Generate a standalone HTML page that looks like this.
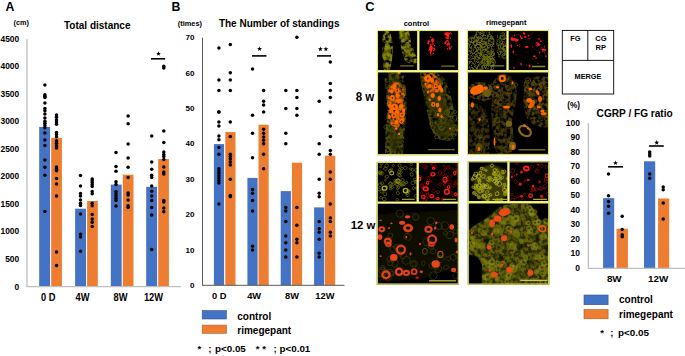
<!DOCTYPE html>
<html><head><meta charset="utf-8"><style>
html,body{margin:0;padding:0;background:#fff;}
body{width:685px;height:356px;overflow:hidden;}
svg text{font-family:"Liberation Sans", sans-serif;}
</style></head><body>
<svg width="685" height="356" viewBox="0 0 685 356" style="display:block">
<rect width="685" height="356" fill="#fff"/>
<defs><clipPath id="c_r1a"><rect x="377.00" y="30.00" width="41.30" height="41.30"/></clipPath><clipPath id="c_r1b"><rect x="418.30" y="30.00" width="40.70" height="41.30"/></clipPath><clipPath id="c_r2a"><rect x="377.00" y="71.30" width="82.00" height="83.80"/></clipPath><clipPath id="c_r1c"><rect x="467.00" y="30.00" width="40.55" height="41.20"/></clipPath><clipPath id="c_r1d"><rect x="507.55" y="30.00" width="41.45" height="41.20"/></clipPath><clipPath id="c_r2b"><rect x="467.00" y="71.20" width="82.00" height="83.70"/></clipPath><clipPath id="c_r3a"><rect x="376.80" y="161.90" width="40.90" height="40.70"/></clipPath><clipPath id="c_r3b"><rect x="417.70" y="161.90" width="41.10" height="40.70"/></clipPath><clipPath id="c_r4a"><rect x="376.80" y="202.60" width="82.00" height="81.90"/></clipPath><clipPath id="c_r3c"><rect x="467.80" y="161.30" width="40.65" height="40.90"/></clipPath><clipPath id="c_r3d"><rect x="508.45" y="161.30" width="40.75" height="40.90"/></clipPath><clipPath id="c_r4b"><rect x="467.80" y="202.20" width="81.40" height="82.40"/></clipPath>
<filter id="tex" x="0" y="0" width="100%" height="100%" color-interpolation-filters="sRGB">
 <feTurbulence type="fractalNoise" baseFrequency="0.55" numOctaves="2" seed="7" result="n"/>
 <feColorMatrix in="n" type="matrix" values="0 0 0 0 0  0 0 0 0 0  0 0 0 0 0  5 0 0 0 -2.1" result="a"/>
 <feComposite in="SourceGraphic" in2="a" operator="in" result="c"/>
 <feGaussianBlur in="c" stdDeviation="0.35"/>
</filter>
<filter id="tex2" x="0" y="0" width="100%" height="100%" color-interpolation-filters="sRGB">
 <feTurbulence type="fractalNoise" baseFrequency="0.28" numOctaves="2" seed="3" result="n"/>
 <feColorMatrix in="n" type="matrix" values="0 0 0 0 0  0 0 0 0 0  0 0 0 0 0  3.2 0 0 0 -1.05" result="a"/>
 <feComposite in="SourceGraphic" in2="a" operator="in" result="c"/>
 <feGaussianBlur in="c" stdDeviation="0.3"/>
</filter>
<filter id="soft" x="-20%" y="-20%" width="140%" height="140%"><feGaussianBlur stdDeviation="0.45"/></filter>
<filter id="soft3" x="-20%" y="-20%" width="140%" height="140%"><feGaussianBlur stdDeviation="0.8"/></filter>
<filter id="soft2" x="-20%" y="-20%" width="140%" height="140%"><feGaussianBlur stdDeviation="1.2"/></filter>
</defs>
<rect x="377.00" y="30.00" width="82.00" height="125.10" fill="#000"/>
<rect x="467.00" y="30.00" width="82.00" height="124.90" fill="#000"/>
<rect x="376.80" y="161.90" width="82.00" height="122.60" fill="#000"/>
<rect x="467.80" y="161.30" width="81.40" height="123.30" fill="#000"/>
<g clip-path="url(#c_r1a)"><g filter="url(#tex2)"><polygon points="383.0,31.0 390.0,31.0 392.5,42.0 393.0,52.0 392.0,60.0 390.0,70.0 384.0,70.0 382.5,60.0 382.0,48.0" fill="#84840e" /><polygon points="398.5,31.0 409.0,31.0 411.0,42.0 414.0,50.0 417.0,58.0 416.5,63.0 411.0,64.0 405.0,61.0 402.0,52.0 400.0,42.0" fill="#84840e" /></g><g filter="url(#soft)" opacity="0.55"><ellipse cx="387.5" cy="51.0" rx="3.5" ry="8.0" fill="#8c8c10" /><ellipse cx="404.0" cy="37.0" rx="4.0" ry="5.0" fill="#8c8c10" /><ellipse cx="408.0" cy="50.0" rx="3.5" ry="7.0" fill="#707010" /></g><line x1="400.2" y1="65.9" x2="413.7" y2="65.9" stroke="#77771e" stroke-width="1.3"/></g>
<g clip-path="url(#c_r1b)"><g filter="url(#soft)"><ellipse cx="430.6" cy="47.2" rx="1.1" ry="0.8" fill="#ff2020" transform="rotate(91 430.6 47.2)" opacity="1.00"/><ellipse cx="431.7" cy="39.7" rx="0.8" ry="0.7" fill="#ff2020" transform="rotate(142 431.7 39.7)" opacity="1.00"/><ellipse cx="427.9" cy="42.1" rx="0.6" ry="0.5" fill="#ff2020" transform="rotate(124 427.9 42.1)" opacity="1.00"/><ellipse cx="434.5" cy="49.1" rx="0.9" ry="0.6" fill="#ff2020" transform="rotate(2 434.5 49.1)" opacity="1.00"/><ellipse cx="431.2" cy="37.2" rx="0.6" ry="0.4" fill="#ff2020" transform="rotate(5 431.2 37.2)" opacity="1.00"/><ellipse cx="430.7" cy="44.8" rx="1.0" ry="0.8" fill="#ff2020" transform="rotate(115 430.7 44.8)" opacity="1.00"/><ellipse cx="431.0" cy="49.2" rx="0.8" ry="0.6" fill="#ff2020" transform="rotate(179 431.0 49.2)" opacity="1.00"/><ellipse cx="432.6" cy="42.3" rx="0.6" ry="0.5" fill="#ff2020" transform="rotate(12 432.6 42.3)" opacity="1.00"/><ellipse cx="433.0" cy="44.0" rx="1.0" ry="0.8" fill="#ff2020" transform="rotate(172 433.0 44.0)" opacity="1.00"/><ellipse cx="430.8" cy="55.6" rx="0.7" ry="0.5" fill="#ff2020" transform="rotate(113 430.8 55.6)" opacity="1.00"/><ellipse cx="433.1" cy="41.4" rx="0.6" ry="0.4" fill="#ff2020" transform="rotate(173 433.1 41.4)" opacity="1.00"/><ellipse cx="433.0" cy="38.4" rx="0.6" ry="0.4" fill="#ff2020" transform="rotate(10 433.0 38.4)" opacity="1.00"/><ellipse cx="433.3" cy="39.6" rx="0.8" ry="0.7" fill="#ff2020" transform="rotate(34 433.3 39.6)" opacity="1.00"/><ellipse cx="432.8" cy="38.6" rx="0.9" ry="0.6" fill="#ff2020" transform="rotate(75 432.8 38.6)" opacity="1.00"/><ellipse cx="428.8" cy="41.4" rx="1.1" ry="1.0" fill="#ff2020" transform="rotate(54 428.8 41.4)" opacity="1.00"/><ellipse cx="433.9" cy="40.2" rx="0.7" ry="0.7" fill="#ff2020" transform="rotate(115 433.9 40.2)" opacity="1.00"/><ellipse cx="428.8" cy="41.2" rx="1.0" ry="0.7" fill="#ff2020" transform="rotate(53 428.8 41.2)" opacity="1.00"/><ellipse cx="431.6" cy="40.9" rx="0.9" ry="0.6" fill="#ff2020" transform="rotate(81 431.6 40.9)" opacity="1.00"/><ellipse cx="434.5" cy="45.7" rx="0.8" ry="0.8" fill="#ff2020" transform="rotate(32 434.5 45.7)" opacity="1.00"/><ellipse cx="433.4" cy="41.0" rx="0.6" ry="0.5" fill="#ff2020" transform="rotate(169 433.4 41.0)" opacity="1.00"/><ellipse cx="433.9" cy="48.1" rx="0.8" ry="0.5" fill="#ff2020" transform="rotate(6 433.9 48.1)" opacity="1.00"/><ellipse cx="432.6" cy="41.1" rx="1.0" ry="0.8" fill="#ff2020" transform="rotate(52 432.6 41.1)" opacity="1.00"/><ellipse cx="428.5" cy="50.4" rx="0.5" ry="0.4" fill="#ff2020" transform="rotate(100 428.5 50.4)" opacity="1.00"/><ellipse cx="433.7" cy="48.3" rx="0.7" ry="0.6" fill="#ff2020" transform="rotate(36 433.7 48.3)" opacity="1.00"/><ellipse cx="430.6" cy="37.2" rx="0.6" ry="0.5" fill="#ff2020" transform="rotate(102 430.6 37.2)" opacity="1.00"/><ellipse cx="428.2" cy="43.2" rx="1.0" ry="1.0" fill="#ff2020" transform="rotate(118 428.2 43.2)" opacity="1.00"/><ellipse cx="432.5" cy="47.7" rx="0.6" ry="0.4" fill="#ff2020" transform="rotate(3 432.5 47.7)" opacity="1.00"/><ellipse cx="434.1" cy="50.0" rx="1.1" ry="0.7" fill="#ff2020" transform="rotate(114 434.1 50.0)" opacity="1.00"/><ellipse cx="430.9" cy="50.6" rx="0.7" ry="0.7" fill="#ff2020" transform="rotate(13 430.9 50.6)" opacity="1.00"/><ellipse cx="431.4" cy="50.7" rx="1.0" ry="0.9" fill="#ff2020" transform="rotate(126 431.4 50.7)" opacity="1.00"/><ellipse cx="429.9" cy="49.7" rx="1.0" ry="1.0" fill="#ff2020" transform="rotate(75 429.9 49.7)" opacity="1.00"/><ellipse cx="433.2" cy="53.3" rx="0.8" ry="0.7" fill="#ff2020" transform="rotate(68 433.2 53.3)" opacity="1.00"/><ellipse cx="431.6" cy="48.2" rx="0.5" ry="0.5" fill="#ff2020" transform="rotate(178 431.6 48.2)" opacity="1.00"/><ellipse cx="433.9" cy="50.6" rx="0.7" ry="0.7" fill="#ff2020" transform="rotate(104 433.9 50.6)" opacity="1.00"/><ellipse cx="430.5" cy="52.8" rx="0.6" ry="0.5" fill="#ff2020" transform="rotate(5 430.5 52.8)" opacity="1.00"/><ellipse cx="431.8" cy="45.6" rx="0.6" ry="0.6" fill="#ff2020" transform="rotate(89 431.8 45.6)" opacity="1.00"/><ellipse cx="431.9" cy="54.4" rx="0.7" ry="0.4" fill="#ff2020" transform="rotate(54 431.9 54.4)" opacity="1.00"/><ellipse cx="432.4" cy="40.1" rx="0.6" ry="0.6" fill="#ff2020" transform="rotate(118 432.4 40.1)" opacity="1.00"/><ellipse cx="430.6" cy="53.8" rx="0.7" ry="0.6" fill="#ff2020" transform="rotate(35 430.6 53.8)" opacity="1.00"/><ellipse cx="430.5" cy="52.1" rx="1.0" ry="1.0" fill="#ff2020" transform="rotate(69 430.5 52.1)" opacity="1.00"/><ellipse cx="448.8" cy="43.8" rx="0.9" ry="0.6" fill="#ff2020" transform="rotate(1 448.8 43.8)" opacity="1.00"/><ellipse cx="448.0" cy="36.9" rx="1.0" ry="0.9" fill="#ff2020" transform="rotate(108 448.0 36.9)" opacity="1.00"/><ellipse cx="449.5" cy="43.9" rx="0.6" ry="0.5" fill="#ff2020" transform="rotate(29 449.5 43.9)" opacity="1.00"/><ellipse cx="450.5" cy="38.1" rx="0.7" ry="0.7" fill="#ff2020" transform="rotate(3 450.5 38.1)" opacity="1.00"/><ellipse cx="449.1" cy="33.6" rx="1.1" ry="1.1" fill="#ff2020" transform="rotate(20 449.1 33.6)" opacity="1.00"/><ellipse cx="448.4" cy="34.4" rx="0.7" ry="0.6" fill="#ff2020" transform="rotate(29 448.4 34.4)" opacity="1.00"/><ellipse cx="450.6" cy="32.9" rx="0.6" ry="0.6" fill="#ff2020" transform="rotate(72 450.6 32.9)" opacity="1.00"/><ellipse cx="448.4" cy="42.7" rx="0.8" ry="0.6" fill="#ff2020" transform="rotate(5 448.4 42.7)" opacity="1.00"/><ellipse cx="447.9" cy="38.5" rx="0.9" ry="0.8" fill="#ff2020" transform="rotate(20 447.9 38.5)" opacity="1.00"/><ellipse cx="446.9" cy="38.5" rx="0.8" ry="0.7" fill="#ff2020" transform="rotate(90 446.9 38.5)" opacity="1.00"/><ellipse cx="448.4" cy="41.3" rx="0.6" ry="0.5" fill="#ff2020" transform="rotate(69 448.4 41.3)" opacity="1.00"/><ellipse cx="451.2" cy="33.8" rx="0.8" ry="0.6" fill="#ff2020" transform="rotate(125 451.2 33.8)" opacity="1.00"/><ellipse cx="447.8" cy="43.5" rx="0.5" ry="0.4" fill="#ff2020" transform="rotate(37 447.8 43.5)" opacity="1.00"/><ellipse cx="447.3" cy="40.6" rx="1.1" ry="0.9" fill="#ff2020" transform="rotate(172 447.3 40.6)" opacity="1.00"/><ellipse cx="447.9" cy="35.4" rx="0.9" ry="0.9" fill="#ff2020" transform="rotate(1 447.9 35.4)" opacity="1.00"/><ellipse cx="447.1" cy="45.9" rx="0.7" ry="0.5" fill="#ff2020" transform="rotate(1 447.1 45.9)" opacity="1.00"/><ellipse cx="445.3" cy="43.1" rx="1.1" ry="1.1" fill="#ff2020" transform="rotate(90 445.3 43.1)" opacity="1.00"/><ellipse cx="451.3" cy="47.0" rx="0.9" ry="0.6" fill="#ff2020" transform="rotate(94 451.3 47.0)" opacity="1.00"/><ellipse cx="448.8" cy="43.3" rx="0.7" ry="0.6" fill="#ff2020" transform="rotate(160 448.8 43.3)" opacity="1.00"/><ellipse cx="446.3" cy="37.2" rx="1.0" ry="0.7" fill="#ff2020" transform="rotate(169 446.3 37.2)" opacity="1.00"/><ellipse cx="449.1" cy="44.5" rx="0.9" ry="0.6" fill="#ff2020" transform="rotate(51 449.1 44.5)" opacity="1.00"/><ellipse cx="447.0" cy="44.3" rx="0.9" ry="0.6" fill="#ff2020" transform="rotate(159 447.0 44.3)" opacity="1.00"/><ellipse cx="448.4" cy="36.3" rx="0.8" ry="0.8" fill="#ff2020" transform="rotate(100 448.4 36.3)" opacity="1.00"/><ellipse cx="450.0" cy="48.6" rx="1.1" ry="1.0" fill="#ff2020" transform="rotate(75 450.0 48.6)" opacity="1.00"/><ellipse cx="449.7" cy="48.2" rx="1.0" ry="0.8" fill="#ff2020" transform="rotate(62 449.7 48.2)" opacity="1.00"/><ellipse cx="447.9" cy="45.2" rx="0.8" ry="0.5" fill="#ff2020" transform="rotate(127 447.9 45.2)" opacity="1.00"/><ellipse cx="449.3" cy="46.2" rx="0.7" ry="0.5" fill="#ff2020" transform="rotate(63 449.3 46.2)" opacity="1.00"/><ellipse cx="447.5" cy="48.8" rx="0.9" ry="0.7" fill="#ff2020" transform="rotate(111 447.5 48.8)" opacity="1.00"/><ellipse cx="446.0" cy="41.6" rx="0.9" ry="0.7" fill="#ff2020" transform="rotate(44 446.0 41.6)" opacity="1.00"/><ellipse cx="448.3" cy="37.8" rx="0.9" ry="0.6" fill="#ff2020" transform="rotate(16 448.3 37.8)" opacity="1.00"/><ellipse cx="447.5" cy="44.5" rx="1.0" ry="0.8" fill="#ff2020" transform="rotate(168 447.5 44.5)" opacity="1.00"/><ellipse cx="447.9" cy="32.5" rx="0.8" ry="0.6" fill="#ff2020" transform="rotate(32 447.9 32.5)" opacity="1.00"/><ellipse cx="450.3" cy="38.1" rx="0.6" ry="0.5" fill="#ff2020" transform="rotate(169 450.3 38.1)" opacity="1.00"/><ellipse cx="447.2" cy="35.6" rx="0.8" ry="0.5" fill="#ff2020" transform="rotate(165 447.2 35.6)" opacity="1.00"/><ellipse cx="446.5" cy="34.0" rx="2.2" ry="1.8" fill="#ff2020" /><ellipse cx="431.0" cy="48.0" rx="1.8" ry="2.5" fill="#ff2020" /></g><line x1="441.2" y1="66.2" x2="454.7" y2="66.2" stroke="#77771e" stroke-width="1.3"/></g>
<g clip-path="url(#c_r2a)"><g filter="url(#tex2)"><polygon points="386.0,72.5 398.0,72.5 404.0,76.0 406.0,90.0 407.0,105.0 406.0,118.0 405.0,128.0 404.0,140.0 403.0,154.0 385.0,154.0 385.0,140.0 386.0,125.0 387.0,110.0 386.0,95.0 384.5,80.0" fill="#4e4e0a" /><polygon points="420.0,72.5 436.0,72.5 444.0,78.0 450.0,92.0 453.0,105.0 456.0,115.0 458.0,124.0 458.0,132.0 455.0,140.0 447.0,141.0 438.0,139.0 433.0,133.0 430.0,124.0 427.0,112.0 425.0,100.0 422.0,88.0 420.0,78.0" fill="#4e4e0a" /></g><g filter="url(#soft2)" opacity="0.7"><ellipse cx="395.0" cy="100.0" rx="7.0" ry="25.0" fill="#3a3a06" /><ellipse cx="394.0" cy="138.0" rx="7.0" ry="14.0" fill="#343406" /><ellipse cx="436.0" cy="100.0" rx="10.0" ry="22.0" fill="#3a3a06" transform="rotate(-20 436.0 100.0)" /><ellipse cx="445.0" cy="128.0" rx="10.0" ry="10.0" fill="#343406" /></g><ellipse cx="389.0" cy="139.6" rx="2.5" ry="2.3" fill="none" stroke="#5e5e10" stroke-width="0.7" transform="rotate(38 389.0 139.6)" opacity="0.8"/><ellipse cx="400.3" cy="144.3" rx="2.3" ry="2.1" fill="none" stroke="#5e5e10" stroke-width="0.7" transform="rotate(42 400.3 144.3)" opacity="0.8"/><ellipse cx="386.1" cy="126.8" rx="2.4" ry="1.8" fill="none" stroke="#5e5e10" stroke-width="0.7" transform="rotate(142 386.1 126.8)" opacity="0.8"/><ellipse cx="390.2" cy="121.3" rx="1.6" ry="1.7" fill="none" stroke="#5e5e10" stroke-width="0.7" transform="rotate(132 390.2 121.3)" opacity="0.8"/><ellipse cx="401.8" cy="136.6" rx="1.6" ry="1.3" fill="none" stroke="#5e5e10" stroke-width="0.7" transform="rotate(89 401.8 136.6)" opacity="0.8"/><ellipse cx="388.1" cy="150.1" rx="2.1" ry="1.7" fill="none" stroke="#5e5e10" stroke-width="0.7" transform="rotate(147 388.1 150.1)" opacity="0.8"/><ellipse cx="388.2" cy="149.1" rx="2.2" ry="2.1" fill="none" stroke="#5e5e10" stroke-width="0.7" transform="rotate(61 388.2 149.1)" opacity="0.8"/><ellipse cx="394.7" cy="119.5" rx="1.6" ry="1.6" fill="none" stroke="#5e5e10" stroke-width="0.7" transform="rotate(42 394.7 119.5)" opacity="0.8"/><ellipse cx="400.0" cy="120.3" rx="3.0" ry="3.1" fill="none" stroke="#5e5e10" stroke-width="0.7" transform="rotate(135 400.0 120.3)" opacity="0.8"/><ellipse cx="399.7" cy="135.2" rx="2.6" ry="2.1" fill="none" stroke="#5e5e10" stroke-width="0.7" transform="rotate(85 399.7 135.2)" opacity="0.8"/><ellipse cx="400.9" cy="120.0" rx="2.9" ry="3.1" fill="none" stroke="#5e5e10" stroke-width="0.7" transform="rotate(73 400.9 120.0)" opacity="0.8"/><ellipse cx="392.6" cy="130.1" rx="2.1" ry="2.3" fill="none" stroke="#5e5e10" stroke-width="0.7" transform="rotate(69 392.6 130.1)" opacity="0.8"/><ellipse cx="454.9" cy="112.2" rx="1.5" ry="1.7" fill="none" stroke="#5e5e10" stroke-width="0.7" transform="rotate(33 454.9 112.2)" opacity="0.8"/><ellipse cx="433.1" cy="127.5" rx="2.0" ry="2.1" fill="none" stroke="#5e5e10" stroke-width="0.7" transform="rotate(41 433.1 127.5)" opacity="0.8"/><ellipse cx="454.9" cy="117.6" rx="2.4" ry="2.6" fill="none" stroke="#5e5e10" stroke-width="0.7" transform="rotate(123 454.9 117.6)" opacity="0.8"/><ellipse cx="454.0" cy="129.2" rx="1.6" ry="1.7" fill="none" stroke="#5e5e10" stroke-width="0.7" transform="rotate(106 454.0 129.2)" opacity="0.8"/><ellipse cx="438.1" cy="113.7" rx="2.8" ry="2.6" fill="none" stroke="#5e5e10" stroke-width="0.7" transform="rotate(168 438.1 113.7)" opacity="0.8"/><ellipse cx="450.1" cy="136.8" rx="2.3" ry="2.3" fill="none" stroke="#5e5e10" stroke-width="0.7" transform="rotate(110 450.1 136.8)" opacity="0.8"/><ellipse cx="436.7" cy="136.7" rx="2.0" ry="2.0" fill="none" stroke="#5e5e10" stroke-width="0.7" transform="rotate(171 436.7 136.7)" opacity="0.8"/><ellipse cx="446.9" cy="112.3" rx="2.7" ry="2.7" fill="none" stroke="#5e5e10" stroke-width="0.7" transform="rotate(33 446.9 112.3)" opacity="0.8"/><ellipse cx="431.3" cy="124.0" rx="1.5" ry="1.7" fill="none" stroke="#5e5e10" stroke-width="0.7" transform="rotate(91 431.3 124.0)" opacity="0.8"/><ellipse cx="443.5" cy="120.3" rx="2.5" ry="2.7" fill="none" stroke="#5e5e10" stroke-width="0.7" transform="rotate(55 443.5 120.3)" opacity="0.8"/><ellipse cx="439.7" cy="125.5" rx="1.9" ry="1.9" fill="none" stroke="#5e5e10" stroke-width="0.7" transform="rotate(97 439.7 125.5)" opacity="0.8"/><ellipse cx="441.3" cy="128.2" rx="2.3" ry="1.8" fill="none" stroke="#5e5e10" stroke-width="0.7" transform="rotate(179 441.3 128.2)" opacity="0.8"/><g filter="url(#tex2)"><polygon points="390.0,83.0 398.0,82.0 404.0,88.0 405.0,100.0 405.0,112.0 404.0,124.0 398.0,128.0 392.0,126.0 388.0,118.0 387.0,105.0 388.0,92.0" fill="#e86000" /><polygon points="423.0,74.0 432.0,73.0 439.0,79.0 442.0,88.0 438.0,93.0 430.0,92.0 425.0,86.0" fill="#d85800" /></g><g filter="url(#soft)"><ellipse cx="399.1" cy="72.8" rx="1.6" ry="1.2" fill="#ff6800" /><ellipse cx="394.4" cy="86.6" rx="2.2" ry="2.6" fill="#ff6800" /><ellipse cx="391.8" cy="91.2" rx="1.8" ry="2.2" fill="#ff6800" /><ellipse cx="397.2" cy="90.6" rx="2.2" ry="2.2" fill="#ff6800" /><ellipse cx="397.6" cy="95.8" rx="2.2" ry="2.4" fill="#ff6800" /><ellipse cx="392.4" cy="97.9" rx="2.4" ry="2.8" fill="#ff6800" /><ellipse cx="398.5" cy="100.6" rx="2.3" ry="2.3" fill="#ff6800" /><ellipse cx="394.4" cy="106.9" rx="3.6" ry="3.2" fill="#ff6800" /><ellipse cx="389.8" cy="105.7" rx="1.8" ry="2.4" fill="#ff6800" /><ellipse cx="401.2" cy="106.5" rx="2.4" ry="2.4" fill="#ff6800" /><ellipse cx="391.2" cy="111.0" rx="2.0" ry="2.4" fill="#ff6800" /><ellipse cx="397.2" cy="112.0" rx="2.4" ry="2.0" fill="#ff6800" /><ellipse cx="403.5" cy="110.5" rx="1.6" ry="2.0" fill="#ff6800" /><ellipse cx="389.5" cy="117.0" rx="1.6" ry="2.0" fill="#ff6800" /><ellipse cx="393.8" cy="115.6" rx="2.6" ry="2.5" fill="#ff6800" /><ellipse cx="402.1" cy="114.8" rx="2.8" ry="2.6" fill="#ff6800" /><ellipse cx="396.8" cy="122.0" rx="2.0" ry="2.6" fill="#ff6800" /><ellipse cx="401.5" cy="121.5" rx="2.2" ry="2.4" fill="#ff6800" /><ellipse cx="396.2" cy="128.6" rx="1.4" ry="1.4" fill="#ff6800" /><ellipse cx="399.1" cy="134.0" rx="1.2" ry="1.2" fill="#ff6800" /><ellipse cx="427.9" cy="78.8" rx="3.8" ry="3.3" fill="#ff6800" /><ellipse cx="432.0" cy="80.5" rx="2.0" ry="2.2" fill="#ff6800" /><ellipse cx="429.7" cy="86.0" rx="1.9" ry="2.0" fill="#ff6800" /><ellipse cx="435.7" cy="86.0" rx="2.0" ry="2.4" fill="#ff6800" /><ellipse cx="439.8" cy="87.5" rx="2.0" ry="2.6" fill="#ff6800" /><ellipse cx="436.9" cy="90.8" rx="1.8" ry="1.8" fill="#ff6800" /><ellipse cx="441.6" cy="90.2" rx="1.6" ry="2.4" fill="#ff6800" /><ellipse cx="432.7" cy="95.5" rx="2.2" ry="2.4" fill="#ff6800" /><ellipse cx="439.2" cy="98.5" rx="1.8" ry="2.4" fill="#ff6800" /><ellipse cx="433.3" cy="104.5" rx="2.2" ry="2.4" fill="#ff6800" /><ellipse cx="437.5" cy="105.1" rx="1.8" ry="2.4" fill="#ff6800" /><ellipse cx="429.7" cy="99.7" rx="1.2" ry="1.2" fill="#ff6800" /><ellipse cx="439.8" cy="109.9" rx="1.6" ry="2.4" fill="#ff6800" /><ellipse cx="438.0" cy="114.8" rx="1.2" ry="1.8" fill="#ff6800" /><ellipse cx="441.6" cy="116.6" rx="1.2" ry="1.5" fill="#ff6800" /><ellipse cx="450.0" cy="128.6" rx="0.9" ry="1.1" fill="#ff6800" /><ellipse cx="425.5" cy="84.0" rx="1.2" ry="1.5" fill="#ff6800" /><ellipse cx="428.0" cy="92.0" rx="1.3" ry="1.6" fill="#ff6800" /></g><g filter="url(#soft)" opacity="0.85"><ellipse cx="394.4" cy="106.5" rx="0.8" ry="1.0" fill="#2a1a00" /><ellipse cx="427.9" cy="78.5" rx="0.8" ry="1.0" fill="#2a1a00" /><ellipse cx="402.1" cy="114.8" rx="0.8" ry="1.0" fill="#2a1a00" /><ellipse cx="393.8" cy="115.4" rx="0.8" ry="1.0" fill="#2a1a00" /><ellipse cx="401.5" cy="121.5" rx="0.8" ry="1.0" fill="#2a1a00" /><ellipse cx="392.4" cy="97.9" rx="0.8" ry="1.0" fill="#2a1a00" /><ellipse cx="397.2" cy="90.6" rx="0.8" ry="1.0" fill="#2a1a00" /><ellipse cx="433.3" cy="104.5" rx="0.8" ry="1.0" fill="#2a1a00" /><ellipse cx="435.7" cy="86.0" rx="0.8" ry="1.0" fill="#2a1a00" /></g><line x1="427.9" y1="149.6" x2="454.8" y2="149.6" stroke="#6e6e1e" stroke-width="1.4"/></g>
<g clip-path="url(#c_r1c)"><g filter="url(#tex)"><polygon points="471.0,38.0 478.0,32.0 492.0,31.5 494.0,40.0 495.0,55.0 494.0,70.0 469.0,70.0 468.0,55.0 468.0,42.0" fill="#5c5c0a" /><polygon points="497.0,35.0 503.0,31.5 507.0,33.0 507.0,52.0 504.0,58.0 498.0,57.0 496.0,48.0" fill="#58580a" /></g><g filter="url(#soft)"><ellipse cx="472.0" cy="39.9" rx="3.2" ry="2.6" fill="none" stroke="#74740e" stroke-width="1.0" transform="rotate(170 472.0 39.9)" opacity="0.8"/><ellipse cx="490.3" cy="59.2" rx="2.8" ry="2.9" fill="none" stroke="#74740e" stroke-width="1.0" transform="rotate(43 490.3 59.2)" opacity="0.8"/><ellipse cx="484.5" cy="46.6" rx="2.9" ry="3.1" fill="none" stroke="#74740e" stroke-width="1.0" transform="rotate(38 484.5 46.6)" opacity="0.8"/><ellipse cx="488.1" cy="60.1" rx="2.2" ry="2.4" fill="none" stroke="#74740e" stroke-width="1.0" transform="rotate(80 488.1 60.1)" opacity="0.8"/><ellipse cx="483.0" cy="44.3" rx="3.0" ry="3.3" fill="none" stroke="#74740e" stroke-width="1.0" transform="rotate(62 483.0 44.3)" opacity="0.8"/><ellipse cx="487.6" cy="60.7" rx="3.6" ry="3.5" fill="none" stroke="#74740e" stroke-width="1.0" transform="rotate(77 487.6 60.7)" opacity="0.8"/><ellipse cx="478.1" cy="47.1" rx="2.7" ry="2.8" fill="none" stroke="#74740e" stroke-width="1.0" transform="rotate(149 478.1 47.1)" opacity="0.8"/><ellipse cx="475.1" cy="43.0" rx="2.1" ry="2.2" fill="none" stroke="#74740e" stroke-width="1.0" transform="rotate(10 475.1 43.0)" opacity="0.8"/><ellipse cx="479.4" cy="40.2" rx="2.4" ry="2.5" fill="none" stroke="#74740e" stroke-width="1.0" transform="rotate(78 479.4 40.2)" opacity="0.8"/><ellipse cx="485.2" cy="62.2" rx="2.9" ry="3.1" fill="none" stroke="#74740e" stroke-width="1.0" transform="rotate(138 485.2 62.2)" opacity="0.8"/><ellipse cx="484.5" cy="53.2" rx="3.6" ry="3.5" fill="none" stroke="#74740e" stroke-width="1.0" transform="rotate(61 484.5 53.2)" opacity="0.8"/><ellipse cx="491.6" cy="61.9" rx="3.7" ry="3.7" fill="none" stroke="#74740e" stroke-width="1.0" transform="rotate(80 491.6 61.9)" opacity="0.8"/><ellipse cx="478.5" cy="55.2" rx="2.3" ry="2.3" fill="none" stroke="#74740e" stroke-width="1.0" transform="rotate(127 478.5 55.2)" opacity="0.8"/><ellipse cx="491.1" cy="41.4" rx="3.0" ry="2.9" fill="none" stroke="#74740e" stroke-width="1.0" transform="rotate(107 491.1 41.4)" opacity="0.8"/><ellipse cx="479.8" cy="34.3" rx="3.7" ry="3.9" fill="none" stroke="#74740e" stroke-width="1.0" transform="rotate(28 479.8 34.3)" opacity="0.8"/><ellipse cx="491.9" cy="54.3" rx="2.0" ry="2.0" fill="none" stroke="#74740e" stroke-width="1.0" transform="rotate(54 491.9 54.3)" opacity="0.8"/><ellipse cx="500.8" cy="46.4" rx="2.5" ry="2.4" fill="none" stroke="#6c6c0e" stroke-width="1.0" transform="rotate(144 500.8 46.4)" opacity="0.8"/><ellipse cx="505.7" cy="48.8" rx="2.8" ry="2.6" fill="none" stroke="#6c6c0e" stroke-width="1.0" transform="rotate(84 505.7 48.8)" opacity="0.8"/><ellipse cx="504.5" cy="55.9" rx="2.5" ry="2.4" fill="none" stroke="#6c6c0e" stroke-width="1.0" transform="rotate(11 504.5 55.9)" opacity="0.8"/><ellipse cx="504.8" cy="48.1" rx="2.6" ry="2.1" fill="none" stroke="#6c6c0e" stroke-width="1.0" transform="rotate(104 504.8 48.1)" opacity="0.8"/><ellipse cx="502.5" cy="37.4" rx="2.3" ry="2.3" fill="none" stroke="#6c6c0e" stroke-width="1.0" transform="rotate(140 502.5 37.4)" opacity="0.8"/></g><line x1="490.8" y1="65.9" x2="504.1" y2="65.9" stroke="#8a8a26" stroke-width="1.3"/></g>
<g clip-path="url(#c_r1d)"><g filter="url(#soft)"><ellipse cx="513.3" cy="39.3" rx="2.8" ry="1.6" fill="#ff1c1c" /><ellipse cx="524.1" cy="33.2" rx="1.3" ry="1.0" fill="#ff1c1c" /><ellipse cx="521.7" cy="38.1" rx="1.2" ry="0.9" fill="#ff1c1c" /><ellipse cx="528.4" cy="35.7" rx="1.0" ry="0.8" fill="#ff1c1c" /><ellipse cx="526.6" cy="47.1" rx="2.0" ry="1.0" fill="#ff1c1c" /><ellipse cx="511.4" cy="45.9" rx="0.7" ry="2.0" fill="#ff1c1c" /><ellipse cx="538.6" cy="38.7" rx="1.0" ry="0.8" fill="#ff1c1c" /><ellipse cx="541.0" cy="41.1" rx="0.9" ry="0.9" fill="#ff1c1c" /><ellipse cx="543.5" cy="49.6" rx="2.0" ry="1.1" fill="#ff1c1c" /><ellipse cx="534.4" cy="56.2" rx="1.3" ry="0.9" fill="#ff1c1c" /><ellipse cx="513.3" cy="52.0" rx="0.8" ry="1.4" fill="#ff1c1c" /><ellipse cx="521.1" cy="64.1" rx="0.8" ry="1.5" fill="#ff1c1c" /><ellipse cx="529.6" cy="65.9" rx="1.0" ry="1.3" fill="#ff1c1c" /><ellipse cx="513.9" cy="67.7" rx="0.8" ry="1.0" fill="#ff1c1c" /><ellipse cx="545.9" cy="56.2" rx="0.8" ry="1.0" fill="#ff1c1c" /><ellipse cx="517.0" cy="40.0" rx="1.5" ry="1.2" fill="#ff1c1c" /><ellipse cx="536.0" cy="58.0" rx="1.0" ry="0.8" fill="#ff1c1c" /><ellipse cx="537.4" cy="44.3" rx="1.4" ry="2.0" fill="none" stroke="#ff1c1c" stroke-width="0.9" /></g><ellipse cx="527.8" cy="52.0" rx="0.7" ry="0.5" fill="#d01010" transform="rotate(57 527.8 52.0)" opacity="0.75"/><ellipse cx="535.0" cy="49.5" rx="0.5" ry="0.4" fill="#d01010" transform="rotate(59 535.0 49.5)" opacity="0.75"/><ellipse cx="516.0" cy="54.7" rx="0.7" ry="0.7" fill="#d01010" transform="rotate(114 516.0 54.7)" opacity="0.75"/><ellipse cx="522.2" cy="47.6" rx="0.4" ry="0.3" fill="#d01010" transform="rotate(53 522.2 47.6)" opacity="0.75"/><ellipse cx="532.2" cy="59.4" rx="0.6" ry="0.4" fill="#d01010" transform="rotate(128 532.2 59.4)" opacity="0.75"/><ellipse cx="519.3" cy="46.7" rx="0.4" ry="0.2" fill="#d01010" transform="rotate(66 519.3 46.7)" opacity="0.75"/><ellipse cx="510.5" cy="45.9" rx="0.7" ry="0.7" fill="#d01010" transform="rotate(76 510.5 45.9)" opacity="0.75"/><ellipse cx="513.9" cy="44.5" rx="0.3" ry="0.2" fill="#d01010" transform="rotate(111 513.9 44.5)" opacity="0.75"/><ellipse cx="532.2" cy="33.1" rx="0.5" ry="0.4" fill="#d01010" transform="rotate(71 532.2 33.1)" opacity="0.75"/><ellipse cx="514.9" cy="46.2" rx="0.4" ry="0.3" fill="#d01010" transform="rotate(116 514.9 46.2)" opacity="0.75"/><ellipse cx="532.6" cy="46.7" rx="0.8" ry="0.6" fill="#d01010" transform="rotate(36 532.6 46.7)" opacity="0.75"/><ellipse cx="523.4" cy="64.9" rx="0.4" ry="0.3" fill="#d01010" transform="rotate(168 523.4 64.9)" opacity="0.75"/><ellipse cx="540.7" cy="48.8" rx="0.5" ry="0.5" fill="#d01010" transform="rotate(127 540.7 48.8)" opacity="0.75"/><ellipse cx="539.0" cy="38.4" rx="0.6" ry="0.5" fill="#d01010" transform="rotate(42 539.0 38.4)" opacity="0.75"/><ellipse cx="517.5" cy="62.3" rx="0.6" ry="0.4" fill="#d01010" transform="rotate(87 517.5 62.3)" opacity="0.75"/><ellipse cx="519.3" cy="40.9" rx="0.4" ry="0.3" fill="#d01010" transform="rotate(26 519.3 40.9)" opacity="0.75"/><ellipse cx="531.3" cy="35.2" rx="0.6" ry="0.4" fill="#d01010" transform="rotate(66 531.3 35.2)" opacity="0.75"/><ellipse cx="514.6" cy="49.9" rx="0.3" ry="0.2" fill="#d01010" transform="rotate(42 514.6 49.9)" opacity="0.75"/><ellipse cx="526.8" cy="65.5" rx="0.6" ry="0.5" fill="#d01010" transform="rotate(130 526.8 65.5)" opacity="0.75"/><ellipse cx="529.1" cy="34.4" rx="0.3" ry="0.2" fill="#d01010" transform="rotate(92 529.1 34.4)" opacity="0.75"/><ellipse cx="522.2" cy="65.5" rx="0.4" ry="0.3" fill="#d01010" transform="rotate(115 522.2 65.5)" opacity="0.75"/><ellipse cx="531.8" cy="33.9" rx="0.5" ry="0.4" fill="#d01010" transform="rotate(148 531.8 33.9)" opacity="0.75"/><ellipse cx="538.0" cy="63.4" rx="0.6" ry="0.6" fill="#d01010" transform="rotate(84 538.0 63.4)" opacity="0.75"/><ellipse cx="520.4" cy="37.0" rx="0.7" ry="0.6" fill="#d01010" transform="rotate(110 520.4 37.0)" opacity="0.75"/><ellipse cx="545.2" cy="54.8" rx="0.5" ry="0.4" fill="#d01010" transform="rotate(166 545.2 54.8)" opacity="0.75"/><ellipse cx="525.0" cy="36.1" rx="0.6" ry="0.5" fill="#d01010" transform="rotate(88 525.0 36.1)" opacity="0.75"/><ellipse cx="519.7" cy="59.6" rx="0.4" ry="0.3" fill="#d01010" transform="rotate(65 519.7 59.6)" opacity="0.75"/><ellipse cx="532.1" cy="50.2" rx="0.4" ry="0.3" fill="#d01010" transform="rotate(147 532.1 50.2)" opacity="0.75"/><ellipse cx="526.4" cy="42.2" rx="0.6" ry="0.5" fill="#d01010" transform="rotate(16 526.4 42.2)" opacity="0.75"/><ellipse cx="526.5" cy="37.5" rx="0.7" ry="0.4" fill="#d01010" transform="rotate(149 526.5 37.5)" opacity="0.75"/><g filter="url(#soft)"><ellipse cx="517.4" cy="45.6" rx="0.7" ry="0.6" fill="#ff2020" transform="rotate(29 517.4 45.6)" opacity="0.90"/><ellipse cx="517.6" cy="40.3" rx="1.0" ry="0.7" fill="#ff2020" transform="rotate(106 517.6 40.3)" opacity="0.90"/><ellipse cx="512.6" cy="36.0" rx="0.5" ry="0.4" fill="#ff2020" transform="rotate(101 512.6 36.0)" opacity="0.90"/><ellipse cx="519.9" cy="46.1" rx="0.7" ry="0.5" fill="#ff2020" transform="rotate(83 519.9 46.1)" opacity="0.90"/><ellipse cx="525.1" cy="37.3" rx="0.7" ry="0.5" fill="#ff2020" transform="rotate(124 525.1 37.3)" opacity="0.90"/><ellipse cx="514.5" cy="35.4" rx="0.9" ry="0.8" fill="#ff2020" transform="rotate(104 514.5 35.4)" opacity="0.90"/><ellipse cx="511.6" cy="38.1" rx="1.0" ry="1.0" fill="#ff2020" transform="rotate(152 511.6 38.1)" opacity="0.90"/><ellipse cx="515.9" cy="40.9" rx="1.0" ry="0.8" fill="#ff2020" transform="rotate(71 515.9 40.9)" opacity="0.90"/><ellipse cx="521.4" cy="37.8" rx="0.8" ry="0.6" fill="#ff2020" transform="rotate(148 521.4 37.8)" opacity="0.90"/><ellipse cx="518.3" cy="34.4" rx="0.5" ry="0.4" fill="#ff2020" transform="rotate(20 518.3 34.4)" opacity="0.90"/><ellipse cx="520.7" cy="36.1" rx="0.8" ry="0.6" fill="#ff2020" transform="rotate(117 520.7 36.1)" opacity="0.90"/><ellipse cx="512.1" cy="38.7" rx="0.9" ry="0.6" fill="#ff2020" transform="rotate(178 512.1 38.7)" opacity="0.90"/><ellipse cx="519.1" cy="44.7" rx="0.7" ry="0.5" fill="#ff2020" transform="rotate(166 519.1 44.7)" opacity="0.90"/><ellipse cx="524.7" cy="36.6" rx="0.7" ry="0.5" fill="#ff2020" transform="rotate(128 524.7 36.6)" opacity="0.90"/><ellipse cx="539.3" cy="44.3" rx="1.0" ry="0.8" fill="#ff2020" transform="rotate(15 539.3 44.3)" opacity="0.90"/><ellipse cx="543.0" cy="40.4" rx="0.6" ry="0.4" fill="#ff2020" transform="rotate(113 543.0 40.4)" opacity="0.90"/><ellipse cx="544.1" cy="50.0" rx="0.6" ry="0.6" fill="#ff2020" transform="rotate(156 544.1 50.0)" opacity="0.90"/><ellipse cx="537.9" cy="43.9" rx="0.9" ry="0.9" fill="#ff2020" transform="rotate(164 537.9 43.9)" opacity="0.90"/><ellipse cx="544.5" cy="51.9" rx="0.6" ry="0.5" fill="#ff2020" transform="rotate(77 544.5 51.9)" opacity="0.90"/><ellipse cx="541.7" cy="47.8" rx="0.6" ry="0.6" fill="#ff2020" transform="rotate(6 541.7 47.8)" opacity="0.90"/><ellipse cx="538.1" cy="44.9" rx="1.1" ry="0.7" fill="#ff2020" transform="rotate(104 538.1 44.9)" opacity="0.90"/><ellipse cx="545.3" cy="50.0" rx="1.1" ry="0.8" fill="#ff2020" transform="rotate(78 545.3 50.0)" opacity="0.90"/><ellipse cx="538.4" cy="45.6" rx="0.7" ry="0.4" fill="#ff2020" transform="rotate(177 538.4 45.6)" opacity="0.90"/><ellipse cx="542.8" cy="51.2" rx="0.8" ry="0.6" fill="#ff2020" transform="rotate(40 542.8 51.2)" opacity="0.90"/><ellipse cx="539.5" cy="52.4" rx="1.1" ry="0.7" fill="#ff2020" transform="rotate(65 539.5 52.4)" opacity="0.90"/><ellipse cx="538.8" cy="45.1" rx="0.8" ry="0.6" fill="#ff2020" transform="rotate(21 538.8 45.1)" opacity="0.90"/><ellipse cx="544.4" cy="46.6" rx="1.0" ry="0.6" fill="#ff2020" transform="rotate(55 544.4 46.6)" opacity="0.90"/><ellipse cx="539.9" cy="39.7" rx="0.7" ry="0.5" fill="#ff2020" transform="rotate(71 539.9 39.7)" opacity="0.90"/><ellipse cx="525.7" cy="37.0" rx="0.7" ry="0.7" fill="#ff2020" transform="rotate(3 525.7 37.0)" opacity="0.90"/><ellipse cx="529.6" cy="38.4" rx="0.6" ry="0.6" fill="#ff2020" transform="rotate(117 529.6 38.4)" opacity="0.90"/><ellipse cx="525.3" cy="37.8" rx="0.5" ry="0.5" fill="#ff2020" opacity="0.90"/><ellipse cx="520.5" cy="36.7" rx="0.6" ry="0.4" fill="#ff2020" transform="rotate(146 520.5 36.7)" opacity="0.90"/><ellipse cx="529.2" cy="35.2" rx="0.6" ry="0.5" fill="#ff2020" transform="rotate(98 529.2 35.2)" opacity="0.90"/><ellipse cx="524.3" cy="34.5" rx="0.7" ry="0.5" fill="#ff2020" transform="rotate(32 524.3 34.5)" opacity="0.90"/><ellipse cx="520.0" cy="35.7" rx="0.6" ry="0.4" fill="#ff2020" transform="rotate(50 520.0 35.7)" opacity="0.90"/><ellipse cx="528.1" cy="38.6" rx="0.5" ry="0.5" fill="#ff2020" transform="rotate(54 528.1 38.6)" opacity="0.90"/></g><line x1="532" y1="66.5" x2="545.3" y2="66.5" stroke="#8a8a26" stroke-width="1.3"/></g>
<g clip-path="url(#c_r2b)"><g filter="url(#tex2)"><polygon points="469.0,86.0 476.0,82.0 485.0,82.0 492.0,86.0 494.0,92.0 492.0,99.0 485.0,101.0 478.0,100.0 471.0,98.0 468.5,92.0" fill="#52440a" /><polygon points="493.0,82.0 498.0,75.0 505.0,74.0 511.0,77.0 515.0,83.0 517.0,92.0 516.0,102.0 514.0,112.0 512.0,120.0 513.0,130.0 514.0,142.0 512.0,152.0 504.0,154.0 498.0,154.0 494.0,148.0 494.0,138.0 492.0,126.0 491.0,112.0 492.0,100.0 493.0,90.0" fill="#463a08" /><polygon points="524.0,82.0 531.0,78.0 540.0,76.0 548.0,77.0 548.0,128.0 541.0,127.0 533.0,124.0 527.0,118.0 524.0,108.0 523.0,96.0" fill="#4e420a" /><polygon points="469.0,102.0 478.0,104.0 486.0,110.0 489.0,125.0 490.0,140.0 489.0,154.0 469.0,154.0" fill="#3a3008" /></g><g filter="url(#soft)"><ellipse cx="487.0" cy="93.0" rx="4.0" ry="4.0" fill="#6a5a12" /><ellipse cx="508.9" cy="123.8" rx="3.2" ry="3.0" fill="#7a6414" /><ellipse cx="525.0" cy="131.0" rx="6.5" ry="4.5" fill="none" stroke="#8a6a14" stroke-width="2.2" transform="rotate(35 525.0 131.0)" /><ellipse cx="512.5" cy="146.0" rx="3.5" ry="4.2" fill="#7a6414" /><ellipse cx="479.0" cy="147.0" rx="3.0" ry="4.0" fill="#5a4a0e" /></g><ellipse cx="492.3" cy="86.1" rx="2.1" ry="2.1" fill="none" stroke="#6a5810" stroke-width="0.8" transform="rotate(24 492.3 86.1)" opacity="0.8"/><ellipse cx="494.7" cy="94.7" rx="2.7" ry="2.1" fill="none" stroke="#6a5810" stroke-width="0.8" transform="rotate(133 494.7 94.7)" opacity="0.8"/><ellipse cx="507.9" cy="87.8" rx="2.3" ry="2.1" fill="none" stroke="#6a5810" stroke-width="0.8" transform="rotate(74 507.9 87.8)" opacity="0.8"/><ellipse cx="515.9" cy="84.7" rx="1.6" ry="1.8" fill="none" stroke="#6a5810" stroke-width="0.8" transform="rotate(72 515.9 84.7)" opacity="0.8"/><ellipse cx="496.8" cy="101.8" rx="2.1" ry="2.3" fill="none" stroke="#6a5810" stroke-width="0.8" transform="rotate(37 496.8 101.8)" opacity="0.8"/><ellipse cx="497.2" cy="120.1" rx="2.4" ry="2.6" fill="none" stroke="#6a5810" stroke-width="0.8" transform="rotate(150 497.2 120.1)" opacity="0.8"/><ellipse cx="500.5" cy="92.7" rx="2.8" ry="3.0" fill="none" stroke="#6a5810" stroke-width="0.8" transform="rotate(5 500.5 92.7)" opacity="0.8"/><ellipse cx="509.6" cy="140.5" rx="2.5" ry="2.1" fill="none" stroke="#6a5810" stroke-width="0.8" transform="rotate(143 509.6 140.5)" opacity="0.8"/><ellipse cx="509.5" cy="92.0" rx="2.5" ry="2.1" fill="none" stroke="#6a5810" stroke-width="0.8" transform="rotate(7 509.5 92.0)" opacity="0.8"/><ellipse cx="500.1" cy="102.1" rx="2.2" ry="2.1" fill="none" stroke="#6a5810" stroke-width="0.8" transform="rotate(150 500.1 102.1)" opacity="0.8"/><ellipse cx="526.8" cy="89.4" rx="2.0" ry="2.2" fill="none" stroke="#6a5810" stroke-width="0.8" transform="rotate(89 526.8 89.4)" opacity="0.8"/><ellipse cx="541.6" cy="84.4" rx="2.3" ry="2.4" fill="none" stroke="#6a5810" stroke-width="0.8" transform="rotate(94 541.6 84.4)" opacity="0.8"/><ellipse cx="546.7" cy="118.8" rx="2.1" ry="1.6" fill="none" stroke="#6a5810" stroke-width="0.8" transform="rotate(135 546.7 118.8)" opacity="0.8"/><ellipse cx="527.9" cy="80.4" rx="2.6" ry="2.7" fill="none" stroke="#6a5810" stroke-width="0.8" transform="rotate(150 527.9 80.4)" opacity="0.8"/><ellipse cx="546.9" cy="88.9" rx="1.7" ry="1.4" fill="none" stroke="#6a5810" stroke-width="0.8" transform="rotate(175 546.9 88.9)" opacity="0.8"/><ellipse cx="527.6" cy="87.0" rx="1.6" ry="1.2" fill="none" stroke="#6a5810" stroke-width="0.8" transform="rotate(6 527.6 87.0)" opacity="0.8"/><ellipse cx="533.1" cy="87.2" rx="2.0" ry="2.2" fill="none" stroke="#6a5810" stroke-width="0.8" transform="rotate(30 533.1 87.2)" opacity="0.8"/><ellipse cx="543.7" cy="112.5" rx="2.4" ry="2.3" fill="none" stroke="#6a5810" stroke-width="0.8" transform="rotate(138 543.7 112.5)" opacity="0.8"/><ellipse cx="538.5" cy="90.1" rx="2.1" ry="1.7" fill="none" stroke="#6a5810" stroke-width="0.8" transform="rotate(72 538.5 90.1)" opacity="0.8"/><ellipse cx="480.8" cy="134.3" rx="2.6" ry="2.2" fill="none" stroke="#56560f" stroke-width="0.7" transform="rotate(117 480.8 134.3)" opacity="0.8"/><ellipse cx="486.9" cy="147.6" rx="1.7" ry="1.7" fill="none" stroke="#56560f" stroke-width="0.7" transform="rotate(111 486.9 147.6)" opacity="0.8"/><ellipse cx="479.6" cy="150.4" rx="2.2" ry="2.0" fill="none" stroke="#56560f" stroke-width="0.7" transform="rotate(169 479.6 150.4)" opacity="0.8"/><ellipse cx="482.1" cy="118.5" rx="1.9" ry="1.8" fill="none" stroke="#56560f" stroke-width="0.7" transform="rotate(9 482.1 118.5)" opacity="0.8"/><ellipse cx="481.5" cy="139.3" rx="2.1" ry="2.1" fill="none" stroke="#56560f" stroke-width="0.7" transform="rotate(167 481.5 139.3)" opacity="0.8"/><ellipse cx="480.6" cy="136.7" rx="1.7" ry="1.3" fill="none" stroke="#56560f" stroke-width="0.7" transform="rotate(176 480.6 136.7)" opacity="0.8"/><g filter="url(#soft)"><ellipse cx="502.3" cy="78.4" rx="2.6" ry="2.6" fill="none" stroke="#ff6800" stroke-width="2.0" /><ellipse cx="477.0" cy="90.0" rx="7.0" ry="4.5" fill="#ff6800" transform="rotate(-15 477.0 90.0)" /><ellipse cx="532.0" cy="104.0" rx="2.5" ry="4.0" fill="#e86000" transform="rotate(20 532.0 104.0)" /><ellipse cx="540.0" cy="99.0" rx="2.0" ry="3.0" fill="#e86000" /><ellipse cx="475.4" cy="91.0" rx="5.2" ry="3.4" fill="#ff6800" transform="rotate(-15 475.4 91.0)" /><ellipse cx="480.0" cy="87.2" rx="3.2" ry="2.4" fill="#ff6800" /><ellipse cx="485.5" cy="88.0" rx="2.4" ry="1.8" fill="#ff6800" /><ellipse cx="497.5" cy="87.2" rx="1.6" ry="1.2" fill="#ff6800" /><ellipse cx="512.5" cy="83.0" rx="1.0" ry="1.8" fill="#ff6800" /><ellipse cx="472.4" cy="105.1" rx="1.6" ry="2.8" fill="#ff6800" /><ellipse cx="506.5" cy="106.9" rx="3.4" ry="1.5" fill="#ff6800" /><ellipse cx="530.4" cy="89.0" rx="1.8" ry="1.3" fill="#ff6800" /><ellipse cx="537.6" cy="92.5" rx="1.5" ry="2.6" fill="#ff6800" transform="rotate(-30 537.6 92.5)" /><ellipse cx="529.2" cy="100.3" rx="2.7" ry="2.4" fill="#ff6800" /><ellipse cx="529.8" cy="106.9" rx="1.8" ry="1.3" fill="#ff6800" /><ellipse cx="538.8" cy="106.9" rx="2.0" ry="1.3" fill="#ff6800" /><ellipse cx="542.4" cy="111.1" rx="2.2" ry="1.3" fill="#ff6800" /><ellipse cx="524.5" cy="125.6" rx="1.8" ry="1.2" fill="#ff6800" transform="rotate(30 524.5 125.6)" /><ellipse cx="528.0" cy="128.6" rx="1.4" ry="1.0" fill="#ff6800" transform="rotate(30 528.0 128.6)" /><ellipse cx="494.5" cy="141.7" rx="0.9" ry="4.0" fill="#ff6800" /><ellipse cx="513.1" cy="147.1" rx="1.6" ry="2.4" fill="#ff6800" /><ellipse cx="479.0" cy="148.9" rx="1.2" ry="2.0" fill="#ff6800" /><ellipse cx="479.6" cy="119.6" rx="1.0" ry="1.6" fill="#ff6800" /><ellipse cx="543.6" cy="113.6" rx="3.0" ry="1.5" fill="#ff6800" /></g><line x1="518.5" y1="149.7" x2="545.4" y2="149.7" stroke="#6e6e1e" stroke-width="1.4"/></g>
<g clip-path="url(#c_r3a)"><g filter="url(#soft)"><ellipse cx="390.6" cy="186.6" rx="1.0" ry="1.1" fill="none" stroke="#74740c" stroke-width="0.7" transform="rotate(147 390.6 186.6)" opacity="0.9"/><ellipse cx="417.0" cy="173.0" rx="1.2" ry="0.9" fill="none" stroke="#74740c" stroke-width="0.7" transform="rotate(34 417.0 173.0)" opacity="0.9"/><ellipse cx="378.9" cy="189.3" rx="1.4" ry="1.4" fill="none" stroke="#74740c" stroke-width="0.7" transform="rotate(136 378.9 189.3)" opacity="0.9"/><ellipse cx="391.6" cy="169.3" rx="1.3" ry="1.0" fill="none" stroke="#74740c" stroke-width="0.7" transform="rotate(116 391.6 169.3)" opacity="0.9"/><ellipse cx="385.4" cy="168.7" rx="1.9" ry="1.7" fill="none" stroke="#74740c" stroke-width="0.7" transform="rotate(170 385.4 168.7)" opacity="0.9"/><ellipse cx="416.2" cy="188.2" rx="1.2" ry="1.0" fill="none" stroke="#74740c" stroke-width="0.7" transform="rotate(44 416.2 188.2)" opacity="0.9"/><ellipse cx="406.7" cy="182.4" rx="1.3" ry="1.0" fill="none" stroke="#74740c" stroke-width="0.7" transform="rotate(63 406.7 182.4)" opacity="0.9"/><ellipse cx="393.3" cy="165.6" rx="1.2" ry="1.1" fill="none" stroke="#74740c" stroke-width="0.7" transform="rotate(74 393.3 165.6)" opacity="0.9"/><ellipse cx="397.3" cy="184.5" rx="1.8" ry="1.6" fill="none" stroke="#74740c" stroke-width="0.7" transform="rotate(17 397.3 184.5)" opacity="0.9"/><ellipse cx="389.8" cy="171.2" rx="1.6" ry="1.4" fill="none" stroke="#74740c" stroke-width="0.7" transform="rotate(57 389.8 171.2)" opacity="0.9"/><ellipse cx="381.7" cy="191.5" rx="1.6" ry="1.6" fill="none" stroke="#74740c" stroke-width="0.7" transform="rotate(126 381.7 191.5)" opacity="0.9"/><ellipse cx="411.3" cy="164.3" rx="1.2" ry="1.1" fill="none" stroke="#74740c" stroke-width="0.7" transform="rotate(126 411.3 164.3)" opacity="0.9"/><ellipse cx="397.7" cy="182.2" rx="1.3" ry="1.1" fill="none" stroke="#74740c" stroke-width="0.7" transform="rotate(157 397.7 182.2)" opacity="0.9"/><ellipse cx="416.3" cy="182.0" rx="1.5" ry="1.2" fill="none" stroke="#74740c" stroke-width="0.7" transform="rotate(108 416.3 182.0)" opacity="0.9"/><ellipse cx="386.3" cy="186.8" rx="1.3" ry="1.2" fill="none" stroke="#74740c" stroke-width="0.7" transform="rotate(155 386.3 186.8)" opacity="0.9"/><ellipse cx="390.2" cy="183.3" rx="1.3" ry="1.2" fill="none" stroke="#74740c" stroke-width="0.7" transform="rotate(156 390.2 183.3)" opacity="0.9"/><ellipse cx="397.2" cy="199.7" rx="1.4" ry="1.3" fill="none" stroke="#74740c" stroke-width="0.7" transform="rotate(116 397.2 199.7)" opacity="0.9"/><ellipse cx="397.5" cy="188.5" rx="1.3" ry="1.0" fill="none" stroke="#74740c" stroke-width="0.7" transform="rotate(76 397.5 188.5)" opacity="0.9"/><ellipse cx="380.5" cy="172.4" rx="1.6" ry="1.6" fill="none" stroke="#74740c" stroke-width="0.7" transform="rotate(163 380.5 172.4)" opacity="0.9"/><ellipse cx="404.5" cy="184.1" rx="1.3" ry="1.2" fill="none" stroke="#74740c" stroke-width="0.7" transform="rotate(51 404.5 184.1)" opacity="0.9"/><ellipse cx="382.0" cy="183.3" rx="1.6" ry="1.4" fill="none" stroke="#74740c" stroke-width="0.7" transform="rotate(133 382.0 183.3)" opacity="0.9"/><ellipse cx="398.7" cy="174.8" rx="1.9" ry="1.4" fill="none" stroke="#74740c" stroke-width="0.7" transform="rotate(48 398.7 174.8)" opacity="0.9"/><ellipse cx="390.5" cy="188.6" rx="1.3" ry="1.4" fill="none" stroke="#74740c" stroke-width="0.7" transform="rotate(18 390.5 188.6)" opacity="0.9"/><ellipse cx="395.6" cy="180.8" rx="1.7" ry="1.5" fill="none" stroke="#74740c" stroke-width="0.7" transform="rotate(29 395.6 180.8)" opacity="0.9"/><ellipse cx="407.0" cy="192.9" rx="1.6" ry="1.7" fill="none" stroke="#74740c" stroke-width="0.7" transform="rotate(71 407.0 192.9)" opacity="0.9"/><ellipse cx="395.5" cy="181.9" rx="1.1" ry="1.2" fill="none" stroke="#74740c" stroke-width="0.7" transform="rotate(11 395.5 181.9)" opacity="0.9"/><ellipse cx="381.0" cy="197.6" rx="1.5" ry="1.2" fill="none" stroke="#74740c" stroke-width="0.7" transform="rotate(159 381.0 197.6)" opacity="0.9"/><ellipse cx="385.4" cy="180.2" rx="1.0" ry="0.8" fill="none" stroke="#74740c" stroke-width="0.7" transform="rotate(86 385.4 180.2)" opacity="0.9"/><ellipse cx="405.3" cy="167.9" rx="1.8" ry="1.7" fill="none" stroke="#74740c" stroke-width="0.7" transform="rotate(121 405.3 167.9)" opacity="0.9"/><ellipse cx="415.6" cy="181.3" rx="1.0" ry="0.8" fill="none" stroke="#74740c" stroke-width="0.7" transform="rotate(156 415.6 181.3)" opacity="0.9"/><ellipse cx="382.2" cy="173.4" rx="1.7" ry="1.7" fill="none" stroke="#74740c" stroke-width="0.7" transform="rotate(135 382.2 173.4)" opacity="0.9"/><ellipse cx="399.8" cy="175.4" rx="1.9" ry="1.4" fill="none" stroke="#74740c" stroke-width="0.7" transform="rotate(46 399.8 175.4)" opacity="0.9"/><ellipse cx="416.5" cy="170.1" rx="1.8" ry="1.8" fill="none" stroke="#74740c" stroke-width="0.7" transform="rotate(113 416.5 170.1)" opacity="0.9"/><ellipse cx="402.7" cy="180.1" rx="1.8" ry="1.4" fill="none" stroke="#74740c" stroke-width="0.7" transform="rotate(51 402.7 180.1)" opacity="0.9"/><ellipse cx="408.1" cy="191.0" rx="1.6" ry="1.6" fill="none" stroke="#74740c" stroke-width="0.7" transform="rotate(52 408.1 191.0)" opacity="0.9"/><ellipse cx="401.4" cy="184.7" rx="1.8" ry="1.5" fill="none" stroke="#74740c" stroke-width="0.7" transform="rotate(51 401.4 184.7)" opacity="0.9"/><ellipse cx="390.5" cy="170.8" rx="1.7" ry="1.6" fill="none" stroke="#74740c" stroke-width="0.7" transform="rotate(12 390.5 170.8)" opacity="0.9"/><ellipse cx="412.8" cy="182.9" rx="1.8" ry="1.8" fill="none" stroke="#74740c" stroke-width="0.7" transform="rotate(71 412.8 182.9)" opacity="0.9"/><ellipse cx="390.5" cy="183.9" rx="1.9" ry="2.0" fill="none" stroke="#74740c" stroke-width="0.7" transform="rotate(172 390.5 183.9)" opacity="0.9"/><ellipse cx="400.3" cy="183.7" rx="1.3" ry="1.2" fill="none" stroke="#74740c" stroke-width="0.7" transform="rotate(100 400.3 183.7)" opacity="0.9"/><ellipse cx="407.7" cy="194.8" rx="1.9" ry="1.6" fill="none" stroke="#74740c" stroke-width="0.7" transform="rotate(116 407.7 194.8)" opacity="0.9"/><ellipse cx="380.6" cy="173.7" rx="1.6" ry="1.2" fill="none" stroke="#74740c" stroke-width="0.7" transform="rotate(155 380.6 173.7)" opacity="0.9"/><ellipse cx="399.0" cy="172.1" rx="1.4" ry="1.4" fill="none" stroke="#74740c" stroke-width="0.7" transform="rotate(16 399.0 172.1)" opacity="0.9"/><ellipse cx="413.5" cy="188.0" rx="1.5" ry="1.2" fill="none" stroke="#74740c" stroke-width="0.7" transform="rotate(112 413.5 188.0)" opacity="0.9"/><ellipse cx="386.7" cy="165.6" rx="1.9" ry="1.6" fill="none" stroke="#74740c" stroke-width="0.7" transform="rotate(138 386.7 165.6)" opacity="0.9"/><ellipse cx="396.9" cy="184.4" rx="1.4" ry="1.4" fill="none" stroke="#74740c" stroke-width="0.7" transform="rotate(140 396.9 184.4)" opacity="0.9"/><ellipse cx="393.1" cy="184.2" rx="1.3" ry="1.4" fill="none" stroke="#74740c" stroke-width="0.7" transform="rotate(82 393.1 184.2)" opacity="0.9"/><ellipse cx="401.4" cy="184.8" rx="1.1" ry="1.0" fill="none" stroke="#74740c" stroke-width="0.7" transform="rotate(140 401.4 184.8)" opacity="0.9"/><ellipse cx="401.0" cy="172.3" rx="1.2" ry="1.2" fill="none" stroke="#74740c" stroke-width="0.7" transform="rotate(146 401.0 172.3)" opacity="0.9"/><ellipse cx="412.5" cy="169.7" rx="1.5" ry="1.4" fill="none" stroke="#74740c" stroke-width="0.7" transform="rotate(76 412.5 169.7)" opacity="0.9"/><ellipse cx="392.1" cy="187.4" rx="1.6" ry="1.2" fill="none" stroke="#74740c" stroke-width="0.7" transform="rotate(7 392.1 187.4)" opacity="0.9"/><ellipse cx="384.9" cy="193.8" rx="1.9" ry="1.8" fill="none" stroke="#74740c" stroke-width="0.7" transform="rotate(66 384.9 193.8)" opacity="0.9"/><ellipse cx="398.7" cy="187.3" rx="1.2" ry="1.3" fill="none" stroke="#74740c" stroke-width="0.7" transform="rotate(165 398.7 187.3)" opacity="0.9"/><ellipse cx="379.4" cy="172.7" rx="1.3" ry="1.3" fill="none" stroke="#74740c" stroke-width="0.7" transform="rotate(163 379.4 172.7)" opacity="0.9"/><ellipse cx="414.8" cy="179.3" rx="1.5" ry="1.3" fill="none" stroke="#74740c" stroke-width="0.7" transform="rotate(5 414.8 179.3)" opacity="0.9"/><ellipse cx="402.9" cy="183.8" rx="1.9" ry="2.0" fill="none" stroke="#74740c" stroke-width="0.7" transform="rotate(96 402.9 183.8)" opacity="0.9"/><ellipse cx="380.2" cy="184.7" rx="1.9" ry="1.8" fill="none" stroke="#74740c" stroke-width="0.7" transform="rotate(116 380.2 184.7)" opacity="0.9"/><ellipse cx="398.0" cy="180.0" rx="1.4" ry="1.2" fill="none" stroke="#74740c" stroke-width="0.7" transform="rotate(80 398.0 180.0)" opacity="0.9"/><ellipse cx="409.1" cy="191.1" rx="1.0" ry="0.9" fill="none" stroke="#74740c" stroke-width="0.7" transform="rotate(13 409.1 191.1)" opacity="0.9"/><ellipse cx="381.6" cy="163.3" rx="1.7" ry="1.4" fill="none" stroke="#74740c" stroke-width="0.7" transform="rotate(119 381.6 163.3)" opacity="0.9"/><ellipse cx="410.4" cy="168.9" rx="1.2" ry="1.0" fill="none" stroke="#74740c" stroke-width="0.7" transform="rotate(23 410.4 168.9)" opacity="0.9"/><ellipse cx="416.3" cy="196.3" rx="2.0" ry="1.6" fill="none" stroke="#74740c" stroke-width="0.7" transform="rotate(76 416.3 196.3)" opacity="0.9"/><ellipse cx="399.6" cy="165.5" rx="1.6" ry="1.7" fill="none" stroke="#74740c" stroke-width="0.7" transform="rotate(166 399.6 165.5)" opacity="0.9"/><ellipse cx="411.7" cy="174.5" rx="1.8" ry="1.5" fill="none" stroke="#74740c" stroke-width="0.7" transform="rotate(83 411.7 174.5)" opacity="0.9"/><ellipse cx="380.9" cy="166.6" rx="1.1" ry="0.9" fill="none" stroke="#74740c" stroke-width="0.7" transform="rotate(133 380.9 166.6)" opacity="0.9"/><ellipse cx="399.8" cy="169.4" rx="1.3" ry="1.1" fill="none" stroke="#74740c" stroke-width="0.7" transform="rotate(20 399.8 169.4)" opacity="0.9"/><ellipse cx="384.3" cy="199.0" rx="1.8" ry="1.8" fill="none" stroke="#74740c" stroke-width="0.7" transform="rotate(16 384.3 199.0)" opacity="0.9"/><ellipse cx="397.9" cy="193.0" rx="1.8" ry="1.5" fill="none" stroke="#74740c" stroke-width="0.7" transform="rotate(68 397.9 193.0)" opacity="0.9"/><ellipse cx="401.8" cy="168.7" rx="1.6" ry="1.2" fill="none" stroke="#74740c" stroke-width="0.7" transform="rotate(146 401.8 168.7)" opacity="0.9"/><ellipse cx="386.7" cy="176.8" rx="1.7" ry="1.6" fill="none" stroke="#74740c" stroke-width="0.7" transform="rotate(177 386.7 176.8)" opacity="0.9"/><ellipse cx="384.5" cy="188.2" rx="2.3" ry="2.0" fill="none" stroke="#b4b41a" stroke-width="1.3" /><ellipse cx="405.6" cy="190.6" rx="2.3" ry="2.2" fill="none" stroke="#b4b41a" stroke-width="1.3" /><ellipse cx="391.7" cy="173.1" rx="2.0" ry="1.8" fill="none" stroke="#a4a418" stroke-width="1.1" /><ellipse cx="398.0" cy="181.0" rx="2.2" ry="2.0" fill="none" stroke="#a4a418" stroke-width="1.0" /></g><line x1="402" y1="199.4" x2="414.7" y2="199.4" stroke="#9a9a26" stroke-width="1.3"/></g>
<g clip-path="url(#c_r3b)"><g filter="url(#soft)"><ellipse cx="421.9" cy="185.6" rx="2.0" ry="1.7" fill="none" stroke="#a00c0c" stroke-width="0.7" transform="rotate(97 421.9 185.6)" opacity="0.85"/><ellipse cx="433.6" cy="191.1" rx="1.7" ry="1.6" fill="none" stroke="#a00c0c" stroke-width="0.7" transform="rotate(175 433.6 191.1)" opacity="0.85"/><ellipse cx="446.4" cy="176.0" rx="1.4" ry="1.3" fill="none" stroke="#a00c0c" stroke-width="0.7" transform="rotate(124 446.4 176.0)" opacity="0.85"/><ellipse cx="427.7" cy="193.7" rx="1.4" ry="1.5" fill="none" stroke="#a00c0c" stroke-width="0.7" transform="rotate(16 427.7 193.7)" opacity="0.85"/><ellipse cx="431.4" cy="163.7" rx="1.4" ry="1.2" fill="none" stroke="#a00c0c" stroke-width="0.7" transform="rotate(62 431.4 163.7)" opacity="0.85"/><ellipse cx="427.6" cy="195.4" rx="1.6" ry="1.4" fill="none" stroke="#a00c0c" stroke-width="0.7" transform="rotate(89 427.6 195.4)" opacity="0.85"/><ellipse cx="426.2" cy="198.8" rx="1.9" ry="1.8" fill="none" stroke="#a00c0c" stroke-width="0.7" transform="rotate(27 426.2 198.8)" opacity="0.85"/><ellipse cx="456.2" cy="171.2" rx="1.1" ry="0.9" fill="none" stroke="#a00c0c" stroke-width="0.7" transform="rotate(67 456.2 171.2)" opacity="0.85"/><ellipse cx="452.2" cy="168.6" rx="1.1" ry="1.0" fill="none" stroke="#a00c0c" stroke-width="0.7" transform="rotate(7 452.2 168.6)" opacity="0.85"/><ellipse cx="444.9" cy="181.5" rx="1.9" ry="2.0" fill="none" stroke="#a00c0c" stroke-width="0.7" transform="rotate(42 444.9 181.5)" opacity="0.85"/><ellipse cx="449.7" cy="182.0" rx="2.0" ry="1.5" fill="none" stroke="#a00c0c" stroke-width="0.7" transform="rotate(82 449.7 182.0)" opacity="0.85"/><ellipse cx="457.2" cy="165.1" rx="1.3" ry="1.1" fill="none" stroke="#a00c0c" stroke-width="0.7" transform="rotate(65 457.2 165.1)" opacity="0.85"/><ellipse cx="457.7" cy="170.3" rx="1.8" ry="1.5" fill="none" stroke="#a00c0c" stroke-width="0.7" transform="rotate(157 457.7 170.3)" opacity="0.85"/><ellipse cx="424.7" cy="166.8" rx="2.0" ry="1.5" fill="none" stroke="#a00c0c" stroke-width="0.7" transform="rotate(115 424.7 166.8)" opacity="0.85"/><ellipse cx="426.9" cy="185.0" rx="1.3" ry="1.3" fill="none" stroke="#a00c0c" stroke-width="0.7" transform="rotate(122 426.9 185.0)" opacity="0.85"/><ellipse cx="448.2" cy="167.6" rx="1.8" ry="1.5" fill="none" stroke="#a00c0c" stroke-width="0.7" transform="rotate(106 448.2 167.6)" opacity="0.85"/><ellipse cx="450.6" cy="192.3" rx="1.5" ry="1.4" fill="none" stroke="#a00c0c" stroke-width="0.7" transform="rotate(27 450.6 192.3)" opacity="0.85"/><ellipse cx="453.3" cy="185.6" rx="1.8" ry="1.9" fill="none" stroke="#a00c0c" stroke-width="0.7" transform="rotate(126 453.3 185.6)" opacity="0.85"/><ellipse cx="430.7" cy="181.3" rx="1.2" ry="1.0" fill="none" stroke="#a00c0c" stroke-width="0.7" transform="rotate(154 430.7 181.3)" opacity="0.85"/><ellipse cx="445.1" cy="169.3" rx="1.5" ry="1.4" fill="none" stroke="#a00c0c" stroke-width="0.7" transform="rotate(146 445.1 169.3)" opacity="0.85"/><ellipse cx="451.4" cy="176.4" rx="1.1" ry="0.9" fill="none" stroke="#a00c0c" stroke-width="0.7" transform="rotate(101 451.4 176.4)" opacity="0.85"/><ellipse cx="433.2" cy="164.3" rx="1.7" ry="1.7" fill="none" stroke="#a00c0c" stroke-width="0.7" transform="rotate(58 433.2 164.3)" opacity="0.85"/><ellipse cx="420.2" cy="176.5" rx="1.6" ry="1.2" fill="none" stroke="#a00c0c" stroke-width="0.7" transform="rotate(19 420.2 176.5)" opacity="0.85"/><ellipse cx="420.6" cy="164.2" rx="1.6" ry="1.6" fill="none" stroke="#a00c0c" stroke-width="0.7" transform="rotate(114 420.6 164.2)" opacity="0.85"/><ellipse cx="431.4" cy="176.5" rx="1.0" ry="1.0" fill="none" stroke="#a00c0c" stroke-width="0.7" transform="rotate(95 431.4 176.5)" opacity="0.85"/><ellipse cx="426.4" cy="167.3" rx="1.3" ry="1.1" fill="none" stroke="#a00c0c" stroke-width="0.7" transform="rotate(125 426.4 167.3)" opacity="0.85"/><ellipse cx="421.8" cy="192.6" rx="1.2" ry="1.0" fill="none" stroke="#a00c0c" stroke-width="0.7" transform="rotate(112 421.8 192.6)" opacity="0.85"/><ellipse cx="424.8" cy="200.5" rx="1.7" ry="1.7" fill="none" stroke="#a00c0c" stroke-width="0.7" transform="rotate(98 424.8 200.5)" opacity="0.85"/><ellipse cx="453.3" cy="195.4" rx="1.6" ry="1.2" fill="none" stroke="#a00c0c" stroke-width="0.7" transform="rotate(119 453.3 195.4)" opacity="0.85"/><ellipse cx="457.8" cy="172.3" rx="1.7" ry="1.3" fill="none" stroke="#a00c0c" stroke-width="0.7" transform="rotate(148 457.8 172.3)" opacity="0.85"/><ellipse cx="440.0" cy="184.3" rx="1.6" ry="1.5" fill="none" stroke="#a00c0c" stroke-width="0.7" transform="rotate(119 440.0 184.3)" opacity="0.85"/><ellipse cx="443.0" cy="174.1" rx="1.9" ry="1.5" fill="none" stroke="#a00c0c" stroke-width="0.7" transform="rotate(134 443.0 174.1)" opacity="0.85"/><ellipse cx="435.5" cy="166.9" rx="1.3" ry="1.2" fill="none" stroke="#a00c0c" stroke-width="0.7" transform="rotate(24 435.5 166.9)" opacity="0.85"/><ellipse cx="443.4" cy="199.2" rx="1.7" ry="1.6" fill="none" stroke="#a00c0c" stroke-width="0.7" transform="rotate(106 443.4 199.2)" opacity="0.85"/><ellipse cx="438.0" cy="192.1" rx="1.7" ry="1.6" fill="none" stroke="#a00c0c" stroke-width="0.7" transform="rotate(134 438.0 192.1)" opacity="0.85"/><ellipse cx="444.2" cy="165.8" rx="1.1" ry="1.0" fill="none" stroke="#a00c0c" stroke-width="0.7" transform="rotate(56 444.2 165.8)" opacity="0.85"/><ellipse cx="446.0" cy="180.9" rx="1.7" ry="1.7" fill="none" stroke="#a00c0c" stroke-width="0.7" transform="rotate(171 446.0 180.9)" opacity="0.85"/><ellipse cx="439.9" cy="173.1" rx="2.0" ry="1.7" fill="none" stroke="#a00c0c" stroke-width="0.7" transform="rotate(134 439.9 173.1)" opacity="0.85"/><ellipse cx="428.4" cy="178.2" rx="1.6" ry="1.8" fill="none" stroke="#a00c0c" stroke-width="0.7" transform="rotate(169 428.4 178.2)" opacity="0.85"/><ellipse cx="456.6" cy="182.3" rx="1.7" ry="1.8" fill="none" stroke="#a00c0c" stroke-width="0.7" transform="rotate(92 456.6 182.3)" opacity="0.85"/><ellipse cx="447.9" cy="177.6" rx="1.5" ry="1.2" fill="none" stroke="#a00c0c" stroke-width="0.7" transform="rotate(24 447.9 177.6)" opacity="0.85"/><ellipse cx="455.5" cy="183.3" rx="1.5" ry="1.5" fill="none" stroke="#a00c0c" stroke-width="0.7" transform="rotate(50 455.5 183.3)" opacity="0.85"/><ellipse cx="422.9" cy="186.8" rx="1.3" ry="1.0" fill="none" stroke="#a00c0c" stroke-width="0.7" transform="rotate(90 422.9 186.8)" opacity="0.85"/><ellipse cx="434.2" cy="198.2" rx="1.5" ry="1.6" fill="none" stroke="#a00c0c" stroke-width="0.7" transform="rotate(139 434.2 198.2)" opacity="0.85"/><ellipse cx="444.8" cy="184.8" rx="1.2" ry="1.2" fill="none" stroke="#a00c0c" stroke-width="0.7" transform="rotate(26 444.8 184.8)" opacity="0.85"/><ellipse cx="425.7" cy="188.8" rx="2.4" ry="1.8" fill="none" stroke="#ff1c1c" stroke-width="1.6" /><ellipse cx="446.8" cy="191.8" rx="2.4" ry="2.4" fill="none" stroke="#ff1c1c" stroke-width="1.5" /><ellipse cx="432.9" cy="174.3" rx="2.0" ry="1.6" fill="none" stroke="#ff1c1c" stroke-width="1.3" /><ellipse cx="419.6" cy="179.1" rx="1.2" ry="1.6" fill="none" stroke="#ff1c1c" stroke-width="1.3" /><ellipse cx="445.0" cy="179.7" rx="2.0" ry="2.4" fill="none" stroke="#ff1c1c" stroke-width="1.1" /><ellipse cx="423.3" cy="196.7" rx="1.8" ry="1.6" fill="none" stroke="#ff1c1c" stroke-width="1.2" /><ellipse cx="431.7" cy="196.1" rx="1.8" ry="1.6" fill="none" stroke="#ff1c1c" stroke-width="1.2" /><ellipse cx="437.8" cy="198.5" rx="1.4" ry="1.0" fill="none" stroke="#ff1c1c" stroke-width="1.2" /><ellipse cx="454.7" cy="173.1" rx="1.2" ry="1.5" fill="none" stroke="#ff1c1c" stroke-width="1.2" /><ellipse cx="455.9" cy="194.3" rx="1.2" ry="1.5" fill="none" stroke="#ff1c1c" stroke-width="1.2" /><ellipse cx="433.5" cy="168.3" rx="1.2" ry="0.9" fill="none" stroke="#ff1c1c" stroke-width="1.2" /><ellipse cx="427.5" cy="182.8" rx="1.3" ry="1.3" fill="none" stroke="#ff1c1c" stroke-width="1.1" /><ellipse cx="448.6" cy="187.0" rx="1.3" ry="1.3" fill="none" stroke="#ff1c1c" stroke-width="1.1" /></g><line x1="442.6" y1="199.4" x2="455.9" y2="199.4" stroke="#9a9a26" stroke-width="1.3"/></g>
<g clip-path="url(#c_r4a)"><g filter="url(#soft2)"><polygon points="378.0,214.0 458.0,210.0 458.0,270.0 440.0,272.0 425.0,278.0 378.0,283.0" fill="#100c02" /></g><g filter="url(#soft)"><ellipse cx="408.5" cy="228.4" rx="2.2" ry="2.3" fill="none" stroke="#34340a" stroke-width="0.9" transform="rotate(104 408.5 228.4)" opacity="0.9"/><ellipse cx="433.2" cy="251.3" rx="2.6" ry="2.7" fill="none" stroke="#34340a" stroke-width="0.9" transform="rotate(103 433.2 251.3)" opacity="0.9"/><ellipse cx="440.5" cy="259.0" rx="3.6" ry="3.3" fill="none" stroke="#34340a" stroke-width="0.9" transform="rotate(27 440.5 259.0)" opacity="0.9"/><ellipse cx="390.0" cy="263.3" rx="2.2" ry="2.1" fill="none" stroke="#34340a" stroke-width="0.9" transform="rotate(111 390.0 263.3)" opacity="0.9"/><ellipse cx="382.8" cy="267.7" rx="1.9" ry="2.0" fill="none" stroke="#34340a" stroke-width="0.9" transform="rotate(151 382.8 267.7)" opacity="0.9"/><ellipse cx="395.3" cy="263.6" rx="3.4" ry="2.7" fill="none" stroke="#34340a" stroke-width="0.9" transform="rotate(120 395.3 263.6)" opacity="0.9"/><ellipse cx="387.9" cy="276.8" rx="3.3" ry="3.6" fill="none" stroke="#34340a" stroke-width="0.9" transform="rotate(9 387.9 276.8)" opacity="0.9"/><ellipse cx="403.4" cy="256.0" rx="3.1" ry="2.6" fill="none" stroke="#34340a" stroke-width="0.9" transform="rotate(159 403.4 256.0)" opacity="0.9"/><ellipse cx="445.7" cy="233.4" rx="2.1" ry="2.1" fill="none" stroke="#34340a" stroke-width="0.9" transform="rotate(73 445.7 233.4)" opacity="0.9"/><ellipse cx="431.1" cy="247.0" rx="2.7" ry="2.0" fill="none" stroke="#34340a" stroke-width="0.9" transform="rotate(24 431.1 247.0)" opacity="0.9"/><ellipse cx="414.7" cy="263.7" rx="2.7" ry="2.8" fill="none" stroke="#34340a" stroke-width="0.9" transform="rotate(97 414.7 263.7)" opacity="0.9"/><ellipse cx="448.4" cy="258.5" rx="2.5" ry="2.0" fill="none" stroke="#34340a" stroke-width="0.9" transform="rotate(11 448.4 258.5)" opacity="0.9"/><ellipse cx="381.2" cy="273.2" rx="3.7" ry="3.8" fill="none" stroke="#34340a" stroke-width="0.9" transform="rotate(19 381.2 273.2)" opacity="0.9"/><ellipse cx="430.8" cy="221.1" rx="3.8" ry="3.7" fill="none" stroke="#34340a" stroke-width="0.9" transform="rotate(134 430.8 221.1)" opacity="0.9"/><ellipse cx="426.7" cy="241.7" rx="3.7" ry="4.0" fill="none" stroke="#34340a" stroke-width="0.9" transform="rotate(43 426.7 241.7)" opacity="0.9"/><ellipse cx="413.0" cy="264.1" rx="3.3" ry="2.9" fill="none" stroke="#34340a" stroke-width="0.9" transform="rotate(81 413.0 264.1)" opacity="0.9"/><ellipse cx="455.4" cy="231.6" rx="2.3" ry="2.2" fill="none" stroke="#34340a" stroke-width="0.9" transform="rotate(49 455.4 231.6)" opacity="0.9"/><ellipse cx="449.8" cy="235.1" rx="3.8" ry="3.4" fill="none" stroke="#34340a" stroke-width="0.9" transform="rotate(159 449.8 235.1)" opacity="0.9"/><ellipse cx="438.1" cy="264.0" rx="2.3" ry="1.8" fill="none" stroke="#34340a" stroke-width="0.9" transform="rotate(5 438.1 264.0)" opacity="0.9"/><ellipse cx="392.5" cy="259.3" rx="1.9" ry="1.6" fill="none" stroke="#34340a" stroke-width="0.9" transform="rotate(102 392.5 259.3)" opacity="0.9"/><ellipse cx="390.4" cy="235.4" rx="2.3" ry="2.3" fill="none" stroke="#34340a" stroke-width="0.9" transform="rotate(21 390.4 235.4)" opacity="0.9"/><ellipse cx="457.8" cy="254.5" rx="3.4" ry="3.2" fill="none" stroke="#34340a" stroke-width="0.9" transform="rotate(89 457.8 254.5)" opacity="0.9"/><ellipse cx="455.7" cy="275.5" rx="3.6" ry="2.7" fill="none" stroke="#34340a" stroke-width="0.9" transform="rotate(106 455.7 275.5)" opacity="0.9"/><ellipse cx="453.3" cy="257.3" rx="2.9" ry="2.9" fill="none" stroke="#34340a" stroke-width="0.9" transform="rotate(31 453.3 257.3)" opacity="0.9"/><ellipse cx="436.2" cy="267.6" rx="2.0" ry="1.8" fill="none" stroke="#34340a" stroke-width="0.9" transform="rotate(107 436.2 267.6)" opacity="0.9"/><ellipse cx="406.2" cy="260.4" rx="3.8" ry="4.1" fill="none" stroke="#34340a" stroke-width="0.9" transform="rotate(55 406.2 260.4)" opacity="0.9"/><ellipse cx="390.1" cy="272.6" rx="3.1" ry="3.3" fill="none" stroke="#34340a" stroke-width="0.9" transform="rotate(156 390.1 272.6)" opacity="0.9"/><ellipse cx="400.4" cy="253.7" rx="2.5" ry="2.5" fill="none" stroke="#34340a" stroke-width="0.9" transform="rotate(124 400.4 253.7)" opacity="0.9"/><ellipse cx="397.1" cy="247.5" rx="3.1" ry="2.6" fill="none" stroke="#34340a" stroke-width="0.9" transform="rotate(32 397.1 247.5)" opacity="0.9"/><ellipse cx="415.9" cy="217.1" rx="2.9" ry="3.1" fill="none" stroke="#34340a" stroke-width="0.9" transform="rotate(148 415.9 217.1)" opacity="0.9"/><ellipse cx="382.3" cy="270.6" rx="3.4" ry="3.4" fill="none" stroke="#34340a" stroke-width="0.9" transform="rotate(4 382.3 270.6)" opacity="0.9"/><ellipse cx="438.8" cy="225.9" rx="3.6" ry="3.1" fill="none" stroke="#34340a" stroke-width="0.9" transform="rotate(65 438.8 225.9)" opacity="0.9"/><ellipse cx="391.8" cy="273.6" rx="2.3" ry="2.4" fill="none" stroke="#34340a" stroke-width="0.9" transform="rotate(92 391.8 273.6)" opacity="0.9"/><ellipse cx="389.9" cy="258.5" rx="3.0" ry="2.3" fill="none" stroke="#34340a" stroke-width="0.9" transform="rotate(148 389.9 258.5)" opacity="0.9"/><ellipse cx="399.7" cy="213.7" rx="3.5" ry="3.5" fill="none" stroke="#34340a" stroke-width="0.9" transform="rotate(69 399.7 213.7)" opacity="0.9"/><ellipse cx="392.9" cy="249.4" rx="3.1" ry="3.1" fill="none" stroke="#34340a" stroke-width="0.9" transform="rotate(88 392.9 249.4)" opacity="0.9"/><ellipse cx="423.4" cy="263.2" rx="2.2" ry="1.8" fill="none" stroke="#34340a" stroke-width="0.9" transform="rotate(87 423.4 263.2)" opacity="0.9"/><ellipse cx="438.3" cy="269.0" rx="3.7" ry="3.3" fill="none" stroke="#34340a" stroke-width="0.9" transform="rotate(128 438.3 269.0)" opacity="0.9"/><ellipse cx="386.5" cy="239.6" rx="1.9" ry="2.0" fill="none" stroke="#34340a" stroke-width="0.9" transform="rotate(179 386.5 239.6)" opacity="0.9"/><ellipse cx="431.6" cy="265.4" rx="2.6" ry="2.7" fill="none" stroke="#34340a" stroke-width="0.9" transform="rotate(15 431.6 265.4)" opacity="0.9"/><ellipse cx="407.6" cy="236.9" rx="3.7" ry="3.0" fill="none" stroke="#34340a" stroke-width="0.9" transform="rotate(28 407.6 236.9)" opacity="0.9"/><ellipse cx="385.2" cy="271.8" rx="2.5" ry="2.7" fill="none" stroke="#34340a" stroke-width="0.9" transform="rotate(56 385.2 271.8)" opacity="0.9"/><ellipse cx="444.9" cy="225.8" rx="3.8" ry="4.1" fill="none" stroke="#34340a" stroke-width="0.9" transform="rotate(158 444.9 225.8)" opacity="0.9"/><ellipse cx="433.3" cy="275.6" rx="3.8" ry="4.1" fill="none" stroke="#34340a" stroke-width="0.9" transform="rotate(49 433.3 275.6)" opacity="0.9"/><ellipse cx="446.0" cy="267.4" rx="2.6" ry="2.1" fill="none" stroke="#34340a" stroke-width="0.9" transform="rotate(161 446.0 267.4)" opacity="0.9"/><ellipse cx="408.1" cy="228.1" rx="3.8" ry="3.0" fill="none" stroke="#e8441a" stroke-width="2.5" /><ellipse cx="408.1" cy="228.1" rx="4.7" ry="3.9" fill="none" stroke="#a03010" stroke-width="0.8" opacity="0.6"/><ellipse cx="381.8" cy="229.3" rx="2.4" ry="2.0" fill="none" stroke="#e8441a" stroke-width="2.0" /><ellipse cx="381.8" cy="229.3" rx="3.3" ry="2.9" fill="none" stroke="#a03010" stroke-width="0.8" opacity="0.6"/><ellipse cx="428.5" cy="229.3" rx="3.0" ry="2.6" fill="none" stroke="#e8441a" stroke-width="2.0" /><ellipse cx="428.5" cy="229.3" rx="3.9" ry="3.5" fill="none" stroke="#a03010" stroke-width="0.8" opacity="0.6"/><ellipse cx="387.8" cy="241.3" rx="3.0" ry="2.6" fill="none" stroke="#e8441a" stroke-width="2.0" /><ellipse cx="387.8" cy="241.3" rx="3.9" ry="3.5" fill="none" stroke="#a03010" stroke-width="0.8" opacity="0.6"/><ellipse cx="432.1" cy="239.5" rx="4.0" ry="4.0" fill="none" stroke="#e8441a" stroke-width="2.0" /><ellipse cx="432.1" cy="239.5" rx="4.9" ry="4.9" fill="none" stroke="#a03010" stroke-width="0.8" opacity="0.6"/><ellipse cx="400.9" cy="249.6" rx="4.0" ry="4.0" fill="none" stroke="#e8441a" stroke-width="2.25" /><ellipse cx="400.9" cy="249.6" rx="4.9" ry="4.9" fill="none" stroke="#a03010" stroke-width="0.8" opacity="0.6"/><ellipse cx="388.4" cy="244.2" rx="2.4" ry="2.0" fill="none" stroke="#e8441a" stroke-width="1.5" /><ellipse cx="388.4" cy="244.2" rx="3.3" ry="2.9" fill="none" stroke="#a03010" stroke-width="0.8" opacity="0.6"/><ellipse cx="431.5" cy="244.2" rx="2.6" ry="1.8" fill="none" stroke="#e8441a" stroke-width="1.375" /><ellipse cx="431.5" cy="244.2" rx="3.5" ry="2.7" fill="none" stroke="#a03010" stroke-width="0.8" opacity="0.6"/><ellipse cx="386.0" cy="274.7" rx="3.6" ry="3.4" fill="none" stroke="#e8441a" stroke-width="2.25" /><ellipse cx="386.0" cy="274.7" rx="4.5" ry="4.3" fill="none" stroke="#a03010" stroke-width="0.8" opacity="0.6"/><ellipse cx="399.1" cy="271.7" rx="3.2" ry="3.2" fill="none" stroke="#e8441a" stroke-width="2.25" /><ellipse cx="399.1" cy="271.7" rx="4.1" ry="4.1" fill="none" stroke="#a03010" stroke-width="0.8" opacity="0.6"/><ellipse cx="406.3" cy="272.9" rx="2.6" ry="2.0" fill="none" stroke="#e8441a" stroke-width="2.125" /><ellipse cx="406.3" cy="272.9" rx="3.5" ry="2.9" fill="none" stroke="#a03010" stroke-width="0.8" opacity="0.6"/><ellipse cx="414.1" cy="271.7" rx="2.4" ry="2.4" fill="none" stroke="#e8441a" stroke-width="1.625" /><ellipse cx="414.1" cy="271.7" rx="3.3" ry="3.3" fill="none" stroke="#a03010" stroke-width="0.8" opacity="0.6"/><ellipse cx="440.4" cy="254.4" rx="2.6" ry="3.0" fill="none" stroke="#a05a10" stroke-width="1.2" /><ellipse cx="424.9" cy="251.4" rx="2.4" ry="3.0" fill="none" stroke="#5a5a10" stroke-width="1.0" /><ellipse cx="407.5" cy="216.8" rx="2.8" ry="1.6" fill="#e8441a" /><ellipse cx="380.6" cy="220.4" rx="1.2" ry="0.8" fill="#e8441a" /><ellipse cx="391.4" cy="223.3" rx="1.2" ry="0.9" fill="#e8441a" /><ellipse cx="402.1" cy="222.8" rx="3.0" ry="2.0" fill="#e8441a" /><ellipse cx="389.0" cy="228.1" rx="1.2" ry="0.9" fill="#e8441a" /><ellipse cx="435.1" cy="228.1" rx="1.2" ry="1.6" fill="#e8441a" /><ellipse cx="436.3" cy="222.8" rx="1.2" ry="1.4" fill="#e8441a" /><ellipse cx="451.8" cy="226.9" rx="2.4" ry="2.6" fill="#e8441a" /><ellipse cx="380.0" cy="237.1" rx="2.4" ry="2.8" fill="#e8441a" /><ellipse cx="406.3" cy="237.1" rx="1.0" ry="1.4" fill="#e8441a" /><ellipse cx="456.0" cy="240.1" rx="1.5" ry="2.5" fill="#e8441a" /><ellipse cx="393.8" cy="257.4" rx="3.8" ry="3.4" fill="#e8441a" /><ellipse cx="435.7" cy="264.0" rx="4.2" ry="3.8" fill="#e8441a" /><ellipse cx="421.3" cy="271.7" rx="1.6" ry="1.2" fill="#e8441a" /><ellipse cx="453.6" cy="269.9" rx="2.6" ry="2.2" fill="#e8441a" /><ellipse cx="410.5" cy="253.8" rx="1.0" ry="1.6" fill="#e8441a" /><ellipse cx="380.6" cy="256.2" rx="1.0" ry="0.9" fill="#e8441a" /><ellipse cx="457.0" cy="252.0" rx="1.0" ry="1.5" fill="#e8441a" /><ellipse cx="420.0" cy="244.0" rx="1.0" ry="1.2" fill="#e8441a" /><ellipse cx="417.1" cy="277.7" rx="1.8" ry="1.1" fill="#e01010" /></g><line x1="429.1" y1="280.7" x2="456" y2="280.7" stroke="#9a9a22" stroke-width="1.4"/></g>
<g clip-path="url(#c_r3c)"><g filter="url(#soft2)"><ellipse cx="491.5" cy="184.0" rx="18.0" ry="19.0" fill="#3a3a06" /></g><g filter="url(#soft)"><ellipse cx="489.2" cy="180.2" rx="2.2" ry="2.1" fill="#9a9a10" transform="rotate(69 489.2 180.2)" opacity="0.75"/><ellipse cx="489.2" cy="180.2" rx="0.9" ry="0.8" fill="#202004" transform="rotate(69 489.2 180.2)" opacity="0.8"/><ellipse cx="487.1" cy="192.0" rx="2.3" ry="1.8" fill="#9a9a10" transform="rotate(163 487.1 192.0)" opacity="0.75"/><ellipse cx="487.1" cy="192.0" rx="0.9" ry="0.7" fill="#202004" transform="rotate(163 487.1 192.0)" opacity="0.8"/><ellipse cx="481.6" cy="168.0" rx="1.6" ry="1.3" fill="#9a9a10" transform="rotate(92 481.6 168.0)" opacity="0.75"/><ellipse cx="499.6" cy="175.6" rx="2.0" ry="1.5" fill="#9a9a10" transform="rotate(161 499.6 175.6)" opacity="0.75"/><ellipse cx="479.3" cy="180.0" rx="2.2" ry="2.0" fill="#9a9a10" transform="rotate(172 479.3 180.0)" opacity="0.75"/><ellipse cx="483.3" cy="176.3" rx="2.6" ry="2.4" fill="#9a9a10" transform="rotate(105 483.3 176.3)" opacity="0.75"/><ellipse cx="483.3" cy="176.3" rx="1.1" ry="1.0" fill="#202004" transform="rotate(105 483.3 176.3)" opacity="0.8"/><ellipse cx="472.4" cy="179.2" rx="1.9" ry="1.8" fill="#9a9a10" transform="rotate(47 472.4 179.2)" opacity="0.75"/><ellipse cx="497.5" cy="177.5" rx="2.8" ry="2.4" fill="#9a9a10" transform="rotate(3 497.5 177.5)" opacity="0.75"/><ellipse cx="497.5" cy="177.5" rx="1.1" ry="1.0" fill="#202004" transform="rotate(3 497.5 177.5)" opacity="0.8"/><ellipse cx="502.3" cy="177.5" rx="1.8" ry="1.7" fill="#9a9a10" transform="rotate(104 502.3 177.5)" opacity="0.75"/><ellipse cx="502.3" cy="177.5" rx="0.7" ry="0.7" fill="#202004" transform="rotate(104 502.3 177.5)" opacity="0.8"/><ellipse cx="478.8" cy="197.3" rx="2.0" ry="2.0" fill="#9a9a10" transform="rotate(17 478.8 197.3)" opacity="0.75"/><ellipse cx="486.2" cy="170.4" rx="1.5" ry="1.4" fill="#9a9a10" transform="rotate(133 486.2 170.4)" opacity="0.75"/><ellipse cx="496.3" cy="176.4" rx="1.9" ry="1.8" fill="#9a9a10" transform="rotate(103 496.3 176.4)" opacity="0.75"/><ellipse cx="496.3" cy="176.4" rx="0.7" ry="0.7" fill="#202004" transform="rotate(103 496.3 176.4)" opacity="0.8"/><ellipse cx="489.6" cy="177.8" rx="2.6" ry="2.0" fill="#9a9a10" transform="rotate(172 489.6 177.8)" opacity="0.75"/><ellipse cx="500.9" cy="178.4" rx="1.8" ry="1.6" fill="#9a9a10" transform="rotate(123 500.9 178.4)" opacity="0.75"/><ellipse cx="496.7" cy="182.7" rx="1.7" ry="1.6" fill="#9a9a10" transform="rotate(13 496.7 182.7)" opacity="0.75"/><ellipse cx="496.7" cy="182.7" rx="0.7" ry="0.6" fill="#202004" transform="rotate(13 496.7 182.7)" opacity="0.8"/><ellipse cx="495.9" cy="174.6" rx="1.8" ry="1.3" fill="#9a9a10" transform="rotate(123 495.9 174.6)" opacity="0.75"/><ellipse cx="495.9" cy="174.6" rx="0.7" ry="0.5" fill="#202004" transform="rotate(123 495.9 174.6)" opacity="0.8"/><ellipse cx="507.8" cy="178.2" rx="2.0" ry="1.5" fill="#9a9a10" transform="rotate(142 507.8 178.2)" opacity="0.75"/><ellipse cx="478.8" cy="190.6" rx="2.5" ry="2.0" fill="#9a9a10" transform="rotate(19 478.8 190.6)" opacity="0.75"/><ellipse cx="488.7" cy="179.4" rx="1.6" ry="1.6" fill="#9a9a10" transform="rotate(27 488.7 179.4)" opacity="0.75"/><ellipse cx="489.8" cy="188.2" rx="1.7" ry="1.5" fill="#9a9a10" transform="rotate(170 489.8 188.2)" opacity="0.75"/><ellipse cx="502.6" cy="172.1" rx="2.4" ry="1.9" fill="#9a9a10" transform="rotate(84 502.6 172.1)" opacity="0.75"/><ellipse cx="502.6" cy="172.1" rx="1.0" ry="0.8" fill="#202004" transform="rotate(84 502.6 172.1)" opacity="0.8"/><ellipse cx="497.2" cy="170.2" rx="1.7" ry="1.4" fill="#9a9a10" transform="rotate(68 497.2 170.2)" opacity="0.75"/><ellipse cx="497.2" cy="170.2" rx="0.7" ry="0.6" fill="#202004" transform="rotate(68 497.2 170.2)" opacity="0.8"/><ellipse cx="498.7" cy="180.4" rx="1.9" ry="1.7" fill="#9a9a10" transform="rotate(151 498.7 180.4)" opacity="0.75"/><ellipse cx="498.7" cy="180.4" rx="0.8" ry="0.7" fill="#202004" transform="rotate(151 498.7 180.4)" opacity="0.8"/><ellipse cx="503.4" cy="187.2" rx="1.7" ry="1.4" fill="#9a9a10" transform="rotate(172 503.4 187.2)" opacity="0.75"/><ellipse cx="503.4" cy="187.2" rx="0.7" ry="0.6" fill="#202004" transform="rotate(172 503.4 187.2)" opacity="0.8"/><ellipse cx="506.4" cy="191.6" rx="2.1" ry="1.8" fill="#9a9a10" transform="rotate(99 506.4 191.6)" opacity="0.75"/><ellipse cx="473.2" cy="187.3" rx="2.0" ry="1.6" fill="#9a9a10" transform="rotate(30 473.2 187.3)" opacity="0.75"/><ellipse cx="473.2" cy="187.3" rx="0.8" ry="0.6" fill="#202004" transform="rotate(30 473.2 187.3)" opacity="0.8"/><ellipse cx="481.7" cy="168.6" rx="2.0" ry="1.7" fill="#9a9a10" transform="rotate(9 481.7 168.6)" opacity="0.75"/><ellipse cx="481.7" cy="168.6" rx="0.8" ry="0.7" fill="#202004" transform="rotate(9 481.7 168.6)" opacity="0.8"/><ellipse cx="481.1" cy="187.8" rx="2.3" ry="1.7" fill="#9a9a10" transform="rotate(21 481.1 187.8)" opacity="0.75"/><ellipse cx="483.9" cy="169.1" rx="1.9" ry="1.4" fill="#9a9a10" transform="rotate(49 483.9 169.1)" opacity="0.75"/><ellipse cx="483.9" cy="169.1" rx="0.7" ry="0.6" fill="#202004" transform="rotate(49 483.9 169.1)" opacity="0.8"/><ellipse cx="483.1" cy="196.1" rx="1.5" ry="1.1" fill="#9a9a10" transform="rotate(4 483.1 196.1)" opacity="0.75"/><ellipse cx="482.4" cy="190.2" rx="2.5" ry="2.1" fill="#9a9a10" transform="rotate(117 482.4 190.2)" opacity="0.75"/><ellipse cx="484.9" cy="196.1" rx="2.3" ry="2.1" fill="#9a9a10" transform="rotate(72 484.9 196.1)" opacity="0.75"/><ellipse cx="484.9" cy="196.1" rx="0.9" ry="0.9" fill="#202004" transform="rotate(72 484.9 196.1)" opacity="0.8"/><ellipse cx="474.0" cy="192.8" rx="2.1" ry="2.0" fill="#9a9a10" transform="rotate(140 474.0 192.8)" opacity="0.75"/><ellipse cx="494.5" cy="173.7" rx="2.2" ry="2.0" fill="#9a9a10" transform="rotate(42 494.5 173.7)" opacity="0.75"/><ellipse cx="501.5" cy="199.7" rx="2.0" ry="1.6" fill="#9a9a10" transform="rotate(80 501.5 199.7)" opacity="0.75"/><ellipse cx="501.5" cy="199.7" rx="0.8" ry="0.6" fill="#202004" transform="rotate(80 501.5 199.7)" opacity="0.8"/><ellipse cx="499.5" cy="200.6" rx="2.3" ry="1.9" fill="#9a9a10" transform="rotate(6 499.5 200.6)" opacity="0.75"/><ellipse cx="490.6" cy="194.6" rx="1.5" ry="1.3" fill="#9a9a10" transform="rotate(59 490.6 194.6)" opacity="0.75"/><ellipse cx="490.6" cy="194.6" rx="0.6" ry="0.5" fill="#202004" transform="rotate(59 490.6 194.6)" opacity="0.8"/><ellipse cx="480.1" cy="191.1" rx="2.5" ry="2.1" fill="#9a9a10" transform="rotate(150 480.1 191.1)" opacity="0.75"/><ellipse cx="480.1" cy="191.1" rx="1.0" ry="0.8" fill="#202004" transform="rotate(150 480.1 191.1)" opacity="0.8"/><ellipse cx="490.7" cy="194.9" rx="1.9" ry="1.5" fill="#9a9a10" transform="rotate(11 490.7 194.9)" opacity="0.75"/><ellipse cx="490.7" cy="194.9" rx="0.8" ry="0.6" fill="#202004" transform="rotate(11 490.7 194.9)" opacity="0.8"/><ellipse cx="505.3" cy="193.6" rx="2.5" ry="2.4" fill="#9a9a10" transform="rotate(125 505.3 193.6)" opacity="0.75"/><ellipse cx="487.7" cy="200.2" rx="1.6" ry="1.5" fill="#9a9a10" transform="rotate(70 487.7 200.2)" opacity="0.75"/><ellipse cx="504.3" cy="184.3" rx="2.0" ry="1.6" fill="#9a9a10" transform="rotate(170 504.3 184.3)" opacity="0.75"/><ellipse cx="496.7" cy="200.2" rx="2.3" ry="1.6" fill="#9a9a10" transform="rotate(134 496.7 200.2)" opacity="0.75"/><ellipse cx="498.6" cy="173.0" rx="1.9" ry="1.9" fill="#9a9a10" transform="rotate(116 498.6 173.0)" opacity="0.75"/><ellipse cx="498.6" cy="173.0" rx="0.7" ry="0.7" fill="#202004" transform="rotate(116 498.6 173.0)" opacity="0.8"/><ellipse cx="475.9" cy="186.3" rx="2.5" ry="2.2" fill="#9a9a10" transform="rotate(34 475.9 186.3)" opacity="0.75"/><ellipse cx="475.9" cy="186.3" rx="1.0" ry="0.9" fill="#202004" transform="rotate(34 475.9 186.3)" opacity="0.8"/><ellipse cx="484.0" cy="186.4" rx="2.7" ry="2.3" fill="#9a9a10" transform="rotate(98 484.0 186.4)" opacity="0.75"/><ellipse cx="475.8" cy="187.9" rx="2.4" ry="2.0" fill="#9a9a10" transform="rotate(116 475.8 187.9)" opacity="0.75"/><ellipse cx="487.4" cy="179.3" rx="1.9" ry="1.8" fill="#9a9a10" transform="rotate(174 487.4 179.3)" opacity="0.75"/><ellipse cx="487.4" cy="179.3" rx="0.8" ry="0.7" fill="#202004" transform="rotate(174 487.4 179.3)" opacity="0.8"/><ellipse cx="493.9" cy="173.5" rx="2.4" ry="1.9" fill="#9a9a10" transform="rotate(135 493.9 173.5)" opacity="0.75"/><ellipse cx="490.7" cy="187.1" rx="1.5" ry="1.1" fill="#9a9a10" transform="rotate(72 490.7 187.1)" opacity="0.75"/><ellipse cx="488.9" cy="195.6" rx="1.3" ry="1.2" fill="none" stroke="#b4b41a" stroke-width="0.9" transform="rotate(8 488.9 195.6)" opacity="0.85"/><ellipse cx="494.7" cy="170.2" rx="1.6" ry="1.6" fill="none" stroke="#b4b41a" stroke-width="0.9" transform="rotate(9 494.7 170.2)" opacity="0.85"/><ellipse cx="475.8" cy="174.4" rx="2.2" ry="2.0" fill="none" stroke="#b4b41a" stroke-width="0.9" transform="rotate(112 475.8 174.4)" opacity="0.85"/><ellipse cx="504.2" cy="171.7" rx="1.7" ry="1.4" fill="none" stroke="#b4b41a" stroke-width="0.9" transform="rotate(140 504.2 171.7)" opacity="0.85"/><ellipse cx="483.3" cy="184.8" rx="1.4" ry="1.5" fill="none" stroke="#b4b41a" stroke-width="0.9" transform="rotate(57 483.3 184.8)" opacity="0.85"/><ellipse cx="487.3" cy="198.7" rx="1.9" ry="1.7" fill="none" stroke="#b4b41a" stroke-width="0.9" transform="rotate(41 487.3 198.7)" opacity="0.85"/><ellipse cx="504.6" cy="190.3" rx="2.0" ry="1.8" fill="none" stroke="#b4b41a" stroke-width="0.9" transform="rotate(165 504.6 190.3)" opacity="0.85"/><ellipse cx="474.8" cy="177.0" rx="2.2" ry="2.1" fill="none" stroke="#b4b41a" stroke-width="0.9" transform="rotate(111 474.8 177.0)" opacity="0.85"/><ellipse cx="495.0" cy="181.0" rx="1.9" ry="1.7" fill="none" stroke="#b4b41a" stroke-width="0.9" transform="rotate(170 495.0 181.0)" opacity="0.85"/><ellipse cx="480.4" cy="172.7" rx="1.6" ry="1.3" fill="none" stroke="#b4b41a" stroke-width="0.9" transform="rotate(110 480.4 172.7)" opacity="0.85"/><ellipse cx="492.0" cy="165.6" rx="1.5" ry="1.6" fill="none" stroke="#b4b41a" stroke-width="0.9" transform="rotate(48 492.0 165.6)" opacity="0.85"/><ellipse cx="495.5" cy="178.7" rx="1.4" ry="1.5" fill="none" stroke="#b4b41a" stroke-width="0.9" transform="rotate(114 495.5 178.7)" opacity="0.85"/><ellipse cx="479.5" cy="185.0" rx="1.6" ry="1.6" fill="none" stroke="#b4b41a" stroke-width="0.9" transform="rotate(3 479.5 185.0)" opacity="0.85"/><ellipse cx="486.5" cy="187.0" rx="2.1" ry="1.6" fill="none" stroke="#b4b41a" stroke-width="0.9" transform="rotate(9 486.5 187.0)" opacity="0.85"/><ellipse cx="487.3" cy="185.4" rx="1.8" ry="1.4" fill="none" stroke="#b4b41a" stroke-width="0.9" transform="rotate(48 487.3 185.4)" opacity="0.85"/><ellipse cx="496.7" cy="182.8" rx="2.3" ry="1.8" fill="none" stroke="#b4b41a" stroke-width="0.9" transform="rotate(110 496.7 182.8)" opacity="0.85"/><ellipse cx="492.4" cy="179.9" rx="1.3" ry="1.1" fill="none" stroke="#b4b41a" stroke-width="0.9" transform="rotate(56 492.4 179.9)" opacity="0.85"/><ellipse cx="476.3" cy="194.8" rx="1.3" ry="1.0" fill="none" stroke="#b4b41a" stroke-width="0.9" transform="rotate(162 476.3 194.8)" opacity="0.85"/><ellipse cx="506.2" cy="187.6" rx="1.8" ry="1.8" fill="none" stroke="#b4b41a" stroke-width="0.9" transform="rotate(9 506.2 187.6)" opacity="0.85"/><ellipse cx="479.7" cy="181.7" rx="1.3" ry="1.4" fill="none" stroke="#b4b41a" stroke-width="0.9" transform="rotate(105 479.7 181.7)" opacity="0.85"/><ellipse cx="478.9" cy="186.1" rx="2.2" ry="2.2" fill="none" stroke="#b4b41a" stroke-width="0.9" transform="rotate(159 478.9 186.1)" opacity="0.85"/><ellipse cx="499.3" cy="183.9" rx="2.3" ry="2.4" fill="none" stroke="#b4b41a" stroke-width="0.9" transform="rotate(51 499.3 183.9)" opacity="0.85"/><ellipse cx="497.1" cy="193.7" rx="1.8" ry="2.0" fill="none" stroke="#b4b41a" stroke-width="0.9" transform="rotate(60 497.1 193.7)" opacity="0.85"/><ellipse cx="478.7" cy="176.4" rx="2.0" ry="1.8" fill="none" stroke="#b4b41a" stroke-width="0.9" transform="rotate(166 478.7 176.4)" opacity="0.85"/><ellipse cx="483.9" cy="196.1" rx="2.1" ry="1.9" fill="none" stroke="#b4b41a" stroke-width="0.9" transform="rotate(176 483.9 196.1)" opacity="0.85"/></g><line x1="492.4" y1="199.3" x2="506.9" y2="199.3" stroke="#a8a830" stroke-width="1.3"/></g>
<g clip-path="url(#c_r3d)"><g filter="url(#soft)"><ellipse cx="515.5" cy="181.6" rx="1.6" ry="1.7" fill="none" stroke="#901010" stroke-width="0.8" transform="rotate(146 515.5 181.6)" opacity="0.8"/><ellipse cx="540.0" cy="188.8" rx="1.2" ry="1.3" fill="none" stroke="#901010" stroke-width="0.8" transform="rotate(78 540.0 188.8)" opacity="0.8"/><ellipse cx="532.1" cy="166.8" rx="1.4" ry="1.4" fill="none" stroke="#901010" stroke-width="0.8" transform="rotate(22 532.1 166.8)" opacity="0.8"/><ellipse cx="513.2" cy="175.4" rx="1.4" ry="1.3" fill="none" stroke="#901010" stroke-width="0.8" transform="rotate(87 513.2 175.4)" opacity="0.8"/><ellipse cx="516.9" cy="163.1" rx="1.4" ry="1.2" fill="none" stroke="#901010" stroke-width="0.8" transform="rotate(96 516.9 163.1)" opacity="0.8"/><ellipse cx="531.3" cy="190.2" rx="1.5" ry="1.4" fill="none" stroke="#901010" stroke-width="0.8" transform="rotate(116 531.3 190.2)" opacity="0.8"/><ellipse cx="544.5" cy="188.2" rx="1.0" ry="0.9" fill="none" stroke="#901010" stroke-width="0.8" transform="rotate(173 544.5 188.2)" opacity="0.8"/><ellipse cx="546.6" cy="174.3" rx="1.3" ry="0.9" fill="none" stroke="#901010" stroke-width="0.8" transform="rotate(22 546.6 174.3)" opacity="0.8"/><ellipse cx="512.7" cy="200.3" rx="2.1" ry="1.9" fill="none" stroke="#901010" stroke-width="0.8" transform="rotate(4 512.7 200.3)" opacity="0.8"/><ellipse cx="544.8" cy="186.6" rx="2.1" ry="1.8" fill="none" stroke="#901010" stroke-width="0.8" transform="rotate(154 544.8 186.6)" opacity="0.8"/><ellipse cx="540.6" cy="188.5" rx="1.8" ry="1.8" fill="none" stroke="#901010" stroke-width="0.8" transform="rotate(82 540.6 188.5)" opacity="0.8"/><ellipse cx="546.2" cy="166.8" rx="1.5" ry="1.3" fill="none" stroke="#901010" stroke-width="0.8" transform="rotate(87 546.2 166.8)" opacity="0.8"/><ellipse cx="541.9" cy="165.9" rx="1.5" ry="1.4" fill="none" stroke="#901010" stroke-width="0.8" transform="rotate(67 541.9 165.9)" opacity="0.8"/><ellipse cx="533.3" cy="189.5" rx="1.8" ry="1.6" fill="none" stroke="#901010" stroke-width="0.8" transform="rotate(65 533.3 189.5)" opacity="0.8"/><ellipse cx="547.6" cy="194.0" rx="1.8" ry="1.4" fill="none" stroke="#901010" stroke-width="0.8" transform="rotate(70 547.6 194.0)" opacity="0.8"/><ellipse cx="536.4" cy="170.2" rx="1.5" ry="1.4" fill="none" stroke="#901010" stroke-width="0.8" transform="rotate(25 536.4 170.2)" opacity="0.8"/><ellipse cx="542.0" cy="196.8" rx="1.3" ry="1.1" fill="none" stroke="#901010" stroke-width="0.8" transform="rotate(46 542.0 196.8)" opacity="0.8"/><ellipse cx="537.2" cy="171.3" rx="1.9" ry="2.0" fill="none" stroke="#901010" stroke-width="0.8" transform="rotate(16 537.2 171.3)" opacity="0.8"/><ellipse cx="536.4" cy="189.5" rx="1.7" ry="1.7" fill="none" stroke="#901010" stroke-width="0.8" transform="rotate(52 536.4 189.5)" opacity="0.8"/><ellipse cx="515.3" cy="197.7" rx="1.2" ry="1.3" fill="none" stroke="#901010" stroke-width="0.8" transform="rotate(144 515.3 197.7)" opacity="0.8"/><ellipse cx="524.8" cy="181.4" rx="1.3" ry="1.1" fill="none" stroke="#901010" stroke-width="0.8" transform="rotate(145 524.8 181.4)" opacity="0.8"/><ellipse cx="512.9" cy="170.9" rx="2.2" ry="1.9" fill="none" stroke="#901010" stroke-width="0.8" transform="rotate(105 512.9 170.9)" opacity="0.8"/><ellipse cx="533.5" cy="189.1" rx="2.0" ry="2.1" fill="none" stroke="#901010" stroke-width="0.8" transform="rotate(51 533.5 189.1)" opacity="0.8"/><ellipse cx="523.0" cy="200.7" rx="2.1" ry="1.9" fill="none" stroke="#901010" stroke-width="0.8" transform="rotate(51 523.0 200.7)" opacity="0.8"/><ellipse cx="524.9" cy="194.3" rx="1.3" ry="1.0" fill="none" stroke="#901010" stroke-width="0.8" transform="rotate(19 524.9 194.3)" opacity="0.8"/><ellipse cx="517.9" cy="196.7" rx="1.2" ry="0.9" fill="none" stroke="#901010" stroke-width="0.8" transform="rotate(132 517.9 196.7)" opacity="0.8"/><ellipse cx="543.7" cy="200.0" rx="2.1" ry="2.2" fill="none" stroke="#901010" stroke-width="0.8" transform="rotate(149 543.7 200.0)" opacity="0.8"/><ellipse cx="546.1" cy="180.9" rx="2.1" ry="1.6" fill="none" stroke="#901010" stroke-width="0.8" transform="rotate(45 546.1 180.9)" opacity="0.8"/><ellipse cx="545.8" cy="179.2" rx="1.6" ry="1.6" fill="none" stroke="#901010" stroke-width="0.8" transform="rotate(70 545.8 179.2)" opacity="0.8"/><ellipse cx="512.0" cy="194.7" rx="1.3" ry="1.3" fill="none" stroke="#901010" stroke-width="0.8" transform="rotate(100 512.0 194.7)" opacity="0.8"/><ellipse cx="526.3" cy="168.5" rx="2.4" ry="2.0" fill="none" stroke="#ff2020" stroke-width="1.8" /><ellipse cx="521.5" cy="172.1" rx="1.4" ry="1.6" fill="#e01818" /><ellipse cx="528.2" cy="180.0" rx="1.6" ry="1.2" fill="#e01818" /><ellipse cx="520.3" cy="184.2" rx="1.6" ry="1.6" fill="#e01818" /><ellipse cx="533.0" cy="186.0" rx="1.4" ry="1.2" fill="#e01818" /><ellipse cx="541.5" cy="196.3" rx="1.6" ry="1.4" fill="#e01818" /><ellipse cx="511.8" cy="176.9" rx="1.0" ry="1.2" fill="#e01818" /><ellipse cx="539.6" cy="181.8" rx="1.2" ry="1.0" fill="#e01818" /><ellipse cx="516.7" cy="174.5" rx="0.9" ry="0.9" fill="#e01818" /><ellipse cx="538.4" cy="164.8" rx="1.2" ry="0.8" fill="#e01818" /><ellipse cx="521.5" cy="196.3" rx="1.5" ry="1.5" fill="#e01818" /><ellipse cx="530.6" cy="195.7" rx="1.8" ry="1.8" fill="none" stroke="#ff2020" stroke-width="1.3" /><ellipse cx="546.9" cy="175.7" rx="1.6" ry="1.8" fill="none" stroke="#d01818" stroke-width="1.1" /></g><line x1="533" y1="199.3" x2="546.9" y2="199.3" stroke="#a8a830" stroke-width="1.3"/></g>
<g clip-path="url(#c_r4b)"><g filter="url(#soft2)"><polygon points="467.0,232.0 474.0,226.0 484.0,220.0 492.0,214.0 498.0,208.0 505.0,205.0 512.0,204.0 530.0,204.0 535.0,212.0 540.0,220.0 549.0,222.0 549.0,285.0 482.0,285.0 482.0,262.0 476.0,256.0 467.0,254.0" fill="#262606" /></g><g filter="url(#tex2)"><polygon points="467.0,232.0 474.0,226.0 484.0,220.0 492.0,214.0 498.0,208.0 505.0,205.0 512.0,204.0 530.0,204.0 535.0,212.0 540.0,220.0 549.0,222.0 549.0,285.0 482.0,285.0 482.0,262.0 476.0,256.0 467.0,254.0" fill="#60600a" /></g><g filter="url(#soft2)" opacity="0.55"><ellipse cx="521.0" cy="246.0" rx="4.0" ry="3.0" fill="#000" /><ellipse cx="500.0" cy="259.0" rx="3.0" ry="3.0" fill="#000" /><ellipse cx="529.0" cy="262.0" rx="3.0" ry="2.5" fill="#000" /><ellipse cx="487.0" cy="240.0" rx="3.0" ry="4.0" fill="#000" /><ellipse cx="545.0" cy="250.0" rx="2.5" ry="6.0" fill="#000" /><ellipse cx="515.0" cy="226.0" rx="3.0" ry="2.5" fill="#000" /><ellipse cx="538.0" cy="238.0" rx="2.5" ry="2.5" fill="#000" /></g><g filter="url(#soft)"><ellipse cx="489.2" cy="244.7" rx="2.7" ry="2.0" fill="#8c8c12" transform="rotate(147 489.2 244.7)" opacity="0.5"/><ellipse cx="543.2" cy="236.4" rx="3.9" ry="3.4" fill="#8c8c12" transform="rotate(131 543.2 236.4)" opacity="0.5"/><ellipse cx="516.3" cy="233.5" rx="4.0" ry="4.0" fill="#8c8c12" transform="rotate(72 516.3 233.5)" opacity="0.5"/><ellipse cx="507.7" cy="269.4" rx="2.7" ry="2.2" fill="#8c8c12" transform="rotate(110 507.7 269.4)" opacity="0.5"/><ellipse cx="543.2" cy="265.2" rx="2.7" ry="2.3" fill="#8c8c12" transform="rotate(136 543.2 265.2)" opacity="0.5"/><ellipse cx="507.1" cy="276.6" rx="4.0" ry="3.8" fill="#8c8c12" transform="rotate(148 507.1 276.6)" opacity="0.5"/><ellipse cx="516.8" cy="218.8" rx="4.0" ry="2.8" fill="#8c8c12" transform="rotate(83 516.8 218.8)" opacity="0.5"/><ellipse cx="516.8" cy="218.8" rx="1.6" ry="1.1" fill="#2c2c06" transform="rotate(83 516.8 218.8)" opacity="0.8"/><ellipse cx="502.8" cy="220.9" rx="3.9" ry="3.8" fill="#8c8c12" transform="rotate(20 502.8 220.9)" opacity="0.5"/><ellipse cx="484.1" cy="233.3" rx="3.1" ry="2.9" fill="#8c8c12" transform="rotate(21 484.1 233.3)" opacity="0.5"/><ellipse cx="547.6" cy="270.6" rx="3.7" ry="3.6" fill="#8c8c12" transform="rotate(179 547.6 270.6)" opacity="0.5"/><ellipse cx="512.6" cy="246.4" rx="3.7" ry="3.5" fill="#8c8c12" transform="rotate(166 512.6 246.4)" opacity="0.5"/><ellipse cx="472.2" cy="238.2" rx="2.5" ry="2.2" fill="#8c8c12" transform="rotate(105 472.2 238.2)" opacity="0.5"/><ellipse cx="537.8" cy="222.8" rx="3.6" ry="2.7" fill="#8c8c12" transform="rotate(105 537.8 222.8)" opacity="0.5"/><ellipse cx="474.2" cy="241.7" rx="3.3" ry="3.2" fill="#8c8c12" transform="rotate(107 474.2 241.7)" opacity="0.5"/><ellipse cx="540.0" cy="228.3" rx="3.2" ry="2.8" fill="#8c8c12" transform="rotate(26 540.0 228.3)" opacity="0.5"/><ellipse cx="540.0" cy="228.3" rx="1.3" ry="1.1" fill="#2c2c06" transform="rotate(26 540.0 228.3)" opacity="0.8"/><ellipse cx="532.0" cy="213.9" rx="3.1" ry="2.2" fill="#8c8c12" transform="rotate(172 532.0 213.9)" opacity="0.5"/><ellipse cx="523.5" cy="262.3" rx="3.3" ry="3.3" fill="#8c8c12" transform="rotate(90 523.5 262.3)" opacity="0.5"/><ellipse cx="523.5" cy="262.3" rx="1.3" ry="1.3" fill="#2c2c06" transform="rotate(90 523.5 262.3)" opacity="0.8"/><ellipse cx="525.6" cy="257.8" rx="3.6" ry="2.5" fill="#8c8c12" transform="rotate(86 525.6 257.8)" opacity="0.5"/><ellipse cx="492.1" cy="266.8" rx="4.0" ry="3.3" fill="#8c8c12" transform="rotate(139 492.1 266.8)" opacity="0.5"/><ellipse cx="500.5" cy="230.3" rx="3.3" ry="3.0" fill="#8c8c12" transform="rotate(117 500.5 230.3)" opacity="0.5"/><ellipse cx="502.3" cy="263.7" rx="2.9" ry="2.0" fill="#8c8c12" transform="rotate(109 502.3 263.7)" opacity="0.5"/><ellipse cx="502.3" cy="263.7" rx="1.2" ry="0.8" fill="#2c2c06" transform="rotate(109 502.3 263.7)" opacity="0.8"/><ellipse cx="538.5" cy="222.0" rx="3.1" ry="2.8" fill="#8c8c12" transform="rotate(9 538.5 222.0)" opacity="0.5"/><ellipse cx="538.5" cy="222.0" rx="1.2" ry="1.1" fill="#2c2c06" transform="rotate(9 538.5 222.0)" opacity="0.8"/><ellipse cx="543.5" cy="264.7" rx="2.4" ry="1.7" fill="#8c8c12" transform="rotate(171 543.5 264.7)" opacity="0.5"/><ellipse cx="543.5" cy="264.7" rx="1.0" ry="0.7" fill="#2c2c06" transform="rotate(171 543.5 264.7)" opacity="0.8"/><ellipse cx="512.2" cy="266.9" rx="2.6" ry="2.1" fill="#8c8c12" transform="rotate(148 512.2 266.9)" opacity="0.5"/><ellipse cx="543.2" cy="251.6" rx="2.4" ry="2.0" fill="#8c8c12" transform="rotate(120 543.2 251.6)" opacity="0.5"/><ellipse cx="532.0" cy="213.5" rx="3.3" ry="3.2" fill="#8c8c12" transform="rotate(115 532.0 213.5)" opacity="0.5"/><ellipse cx="518.6" cy="265.7" rx="2.7" ry="2.3" fill="#8c8c12" transform="rotate(154 518.6 265.7)" opacity="0.5"/><ellipse cx="482.2" cy="246.3" rx="3.1" ry="3.0" fill="#8c8c12" transform="rotate(37 482.2 246.3)" opacity="0.5"/><ellipse cx="506.3" cy="210.9" rx="4.0" ry="3.4" fill="#8c8c12" transform="rotate(21 506.3 210.9)" opacity="0.5"/><ellipse cx="537.6" cy="256.8" rx="3.4" ry="3.3" fill="#8c8c12" transform="rotate(92 537.6 256.8)" opacity="0.5"/><ellipse cx="498.1" cy="267.8" rx="3.9" ry="2.8" fill="#8c8c12" transform="rotate(87 498.1 267.8)" opacity="0.5"/><ellipse cx="498.1" cy="267.8" rx="1.6" ry="1.1" fill="#2c2c06" transform="rotate(87 498.1 267.8)" opacity="0.8"/><ellipse cx="546.4" cy="221.4" rx="3.7" ry="2.8" fill="#8c8c12" transform="rotate(34 546.4 221.4)" opacity="0.5"/><ellipse cx="546.4" cy="221.4" rx="1.5" ry="1.1" fill="#2c2c06" transform="rotate(34 546.4 221.4)" opacity="0.8"/><ellipse cx="534.4" cy="212.2" rx="3.2" ry="2.7" fill="#8c8c12" transform="rotate(145 534.4 212.2)" opacity="0.5"/><ellipse cx="534.4" cy="212.2" rx="1.3" ry="1.1" fill="#2c2c06" transform="rotate(145 534.4 212.2)" opacity="0.8"/><ellipse cx="511.5" cy="267.0" rx="2.9" ry="2.2" fill="#8c8c12" transform="rotate(24 511.5 267.0)" opacity="0.5"/><ellipse cx="511.5" cy="267.0" rx="1.2" ry="0.9" fill="#2c2c06" transform="rotate(24 511.5 267.0)" opacity="0.8"/><ellipse cx="531.6" cy="211.6" rx="3.6" ry="3.1" fill="#8c8c12" transform="rotate(122 531.6 211.6)" opacity="0.5"/><ellipse cx="531.6" cy="211.6" rx="1.4" ry="1.3" fill="#2c2c06" transform="rotate(122 531.6 211.6)" opacity="0.8"/><ellipse cx="472.5" cy="244.8" rx="3.1" ry="2.2" fill="#8c8c12" transform="rotate(122 472.5 244.8)" opacity="0.5"/><ellipse cx="472.5" cy="244.8" rx="1.2" ry="0.9" fill="#2c2c06" transform="rotate(122 472.5 244.8)" opacity="0.8"/><ellipse cx="471.5" cy="243.4" rx="2.5" ry="2.1" fill="#8c8c12" transform="rotate(95 471.5 243.4)" opacity="0.5"/><ellipse cx="471.5" cy="243.4" rx="1.0" ry="0.8" fill="#2c2c06" transform="rotate(95 471.5 243.4)" opacity="0.8"/><ellipse cx="485.0" cy="277.7" rx="3.2" ry="2.8" fill="#8c8c12" transform="rotate(18 485.0 277.7)" opacity="0.5"/><ellipse cx="508.6" cy="275.4" rx="3.7" ry="2.6" fill="#8c8c12" transform="rotate(122 508.6 275.4)" opacity="0.5"/><ellipse cx="508.6" cy="275.4" rx="1.5" ry="1.1" fill="#2c2c06" transform="rotate(122 508.6 275.4)" opacity="0.8"/><ellipse cx="510.3" cy="218.4" rx="3.2" ry="3.0" fill="#8c8c12" transform="rotate(120 510.3 218.4)" opacity="0.5"/><ellipse cx="529.1" cy="228.7" rx="3.4" ry="3.1" fill="#8c8c12" transform="rotate(90 529.1 228.7)" opacity="0.5"/><ellipse cx="529.1" cy="228.7" rx="1.4" ry="1.3" fill="#2c2c06" transform="rotate(90 529.1 228.7)" opacity="0.8"/><ellipse cx="483.9" cy="261.6" rx="3.6" ry="3.3" fill="#8c8c12" transform="rotate(41 483.9 261.6)" opacity="0.5"/><ellipse cx="521.1" cy="241.5" rx="2.5" ry="2.3" fill="#8c8c12" transform="rotate(41 521.1 241.5)" opacity="0.5"/><ellipse cx="497.6" cy="279.3" rx="2.7" ry="2.6" fill="#8c8c12" transform="rotate(168 497.6 279.3)" opacity="0.5"/><ellipse cx="548.3" cy="258.4" rx="2.7" ry="2.2" fill="#8c8c12" transform="rotate(78 548.3 258.4)" opacity="0.5"/><ellipse cx="497.9" cy="262.8" rx="2.4" ry="1.9" fill="#8c8c12" transform="rotate(40 497.9 262.8)" opacity="0.5"/><ellipse cx="497.9" cy="262.8" rx="1.0" ry="0.8" fill="#2c2c06" transform="rotate(40 497.9 262.8)" opacity="0.8"/><ellipse cx="529.2" cy="274.2" rx="2.6" ry="1.8" fill="#8c8c12" transform="rotate(85 529.2 274.2)" opacity="0.5"/><ellipse cx="529.2" cy="274.2" rx="1.0" ry="0.7" fill="#2c2c06" transform="rotate(85 529.2 274.2)" opacity="0.8"/><ellipse cx="536.0" cy="271.6" rx="2.8" ry="2.2" fill="#8c8c12" transform="rotate(73 536.0 271.6)" opacity="0.5"/><ellipse cx="488.1" cy="265.6" rx="3.2" ry="3.0" fill="#8c8c12" transform="rotate(99 488.1 265.6)" opacity="0.5"/><ellipse cx="491.2" cy="262.4" rx="2.8" ry="2.7" fill="#8c8c12" transform="rotate(1 491.2 262.4)" opacity="0.5"/><ellipse cx="491.2" cy="262.4" rx="1.1" ry="1.1" fill="#2c2c06" transform="rotate(1 491.2 262.4)" opacity="0.8"/><ellipse cx="492.2" cy="261.7" rx="3.8" ry="3.4" fill="#8c8c12" transform="rotate(69 492.2 261.7)" opacity="0.5"/><ellipse cx="492.2" cy="261.7" rx="1.5" ry="1.4" fill="#2c2c06" transform="rotate(69 492.2 261.7)" opacity="0.8"/><ellipse cx="471.4" cy="248.7" rx="2.7" ry="2.2" fill="#8c8c12" transform="rotate(37 471.4 248.7)" opacity="0.5"/><ellipse cx="487.4" cy="222.3" rx="3.3" ry="2.9" fill="#8c8c12" transform="rotate(49 487.4 222.3)" opacity="0.5"/><ellipse cx="494.2" cy="275.9" rx="3.9" ry="2.8" fill="#8c8c12" transform="rotate(7 494.2 275.9)" opacity="0.5"/><ellipse cx="494.2" cy="275.9" rx="1.6" ry="1.1" fill="#2c2c06" transform="rotate(7 494.2 275.9)" opacity="0.8"/><ellipse cx="508.8" cy="228.8" rx="3.6" ry="3.0" fill="#8c8c12" transform="rotate(177 508.8 228.8)" opacity="0.5"/><ellipse cx="508.8" cy="228.8" rx="1.4" ry="1.2" fill="#2c2c06" transform="rotate(177 508.8 228.8)" opacity="0.8"/><ellipse cx="487.4" cy="277.0" rx="3.7" ry="3.7" fill="#8c8c12" transform="rotate(158 487.4 277.0)" opacity="0.5"/><ellipse cx="487.4" cy="277.0" rx="1.5" ry="1.5" fill="#2c2c06" transform="rotate(158 487.4 277.0)" opacity="0.8"/><ellipse cx="529.0" cy="231.6" rx="2.6" ry="2.1" fill="#8c8c12" transform="rotate(124 529.0 231.6)" opacity="0.5"/><ellipse cx="514.8" cy="224.2" rx="2.4" ry="2.3" fill="#8c8c12" transform="rotate(133 514.8 224.2)" opacity="0.5"/><ellipse cx="495.8" cy="231.4" rx="3.4" ry="3.1" fill="#8c8c12" transform="rotate(66 495.8 231.4)" opacity="0.5"/><ellipse cx="511.7" cy="272.5" rx="2.6" ry="2.2" fill="#8c8c12" transform="rotate(37 511.7 272.5)" opacity="0.5"/><ellipse cx="542.5" cy="274.3" rx="2.7" ry="2.1" fill="#8c8c12" transform="rotate(56 542.5 274.3)" opacity="0.5"/><ellipse cx="542.5" cy="274.3" rx="1.1" ry="0.8" fill="#2c2c06" transform="rotate(56 542.5 274.3)" opacity="0.8"/><ellipse cx="534.5" cy="246.3" rx="4.0" ry="3.7" fill="#8c8c12" transform="rotate(112 534.5 246.3)" opacity="0.5"/><ellipse cx="513.3" cy="223.2" rx="3.1" ry="2.3" fill="#8c8c12" transform="rotate(79 513.3 223.2)" opacity="0.5"/><ellipse cx="531.1" cy="230.8" rx="2.4" ry="2.0" fill="#8c8c12" transform="rotate(18 531.1 230.8)" opacity="0.5"/><ellipse cx="531.1" cy="230.8" rx="1.0" ry="0.8" fill="#2c2c06" transform="rotate(18 531.1 230.8)" opacity="0.8"/><ellipse cx="506.9" cy="281.5" rx="2.8" ry="2.4" fill="#8c8c12" transform="rotate(63 506.9 281.5)" opacity="0.5"/><ellipse cx="506.9" cy="281.5" rx="1.1" ry="1.0" fill="#2c2c06" transform="rotate(63 506.9 281.5)" opacity="0.8"/><ellipse cx="538.8" cy="282.6" rx="2.4" ry="2.3" fill="#8c8c12" transform="rotate(70 538.8 282.6)" opacity="0.5"/><ellipse cx="538.8" cy="282.6" rx="1.0" ry="0.9" fill="#2c2c06" transform="rotate(70 538.8 282.6)" opacity="0.8"/><ellipse cx="513.9" cy="268.9" rx="3.9" ry="3.8" fill="#8c8c12" transform="rotate(34 513.9 268.9)" opacity="0.5"/><ellipse cx="528.3" cy="223.0" rx="2.5" ry="2.5" fill="#8c8c12" transform="rotate(86 528.3 223.0)" opacity="0.5"/><ellipse cx="528.3" cy="223.0" rx="1.0" ry="1.0" fill="#2c2c06" transform="rotate(86 528.3 223.0)" opacity="0.8"/><ellipse cx="547.6" cy="282.6" rx="3.2" ry="3.1" fill="#8c8c12" transform="rotate(81 547.6 282.6)" opacity="0.5"/><ellipse cx="547.6" cy="282.6" rx="1.3" ry="1.2" fill="#2c2c06" transform="rotate(81 547.6 282.6)" opacity="0.8"/><ellipse cx="515.7" cy="218.6" rx="3.6" ry="3.2" fill="#8c8c12" transform="rotate(88 515.7 218.6)" opacity="0.5"/><ellipse cx="515.7" cy="218.6" rx="1.4" ry="1.3" fill="#2c2c06" transform="rotate(88 515.7 218.6)" opacity="0.8"/><ellipse cx="539.0" cy="270.2" rx="2.4" ry="1.9" fill="#8c8c12" transform="rotate(101 539.0 270.2)" opacity="0.5"/><ellipse cx="542.1" cy="267.5" rx="3.5" ry="2.7" fill="#8c8c12" transform="rotate(161 542.1 267.5)" opacity="0.5"/><ellipse cx="542.1" cy="267.5" rx="1.4" ry="1.1" fill="#2c2c06" transform="rotate(161 542.1 267.5)" opacity="0.8"/><ellipse cx="542.0" cy="256.5" rx="2.9" ry="2.6" fill="#8c8c12" transform="rotate(152 542.0 256.5)" opacity="0.5"/><ellipse cx="542.0" cy="256.5" rx="1.1" ry="1.0" fill="#2c2c06" transform="rotate(152 542.0 256.5)" opacity="0.8"/><ellipse cx="544.1" cy="263.4" rx="3.6" ry="2.5" fill="#8c8c12" transform="rotate(15 544.1 263.4)" opacity="0.5"/><ellipse cx="544.1" cy="263.4" rx="1.4" ry="1.0" fill="#2c2c06" transform="rotate(15 544.1 263.4)" opacity="0.8"/><ellipse cx="530.0" cy="208.0" rx="2.9" ry="2.4" fill="#8c8c12" transform="rotate(58 530.0 208.0)" opacity="0.5"/><ellipse cx="530.0" cy="208.0" rx="1.1" ry="0.9" fill="#2c2c06" transform="rotate(58 530.0 208.0)" opacity="0.8"/><ellipse cx="477.7" cy="245.9" rx="2.5" ry="2.0" fill="#8c8c12" transform="rotate(72 477.7 245.9)" opacity="0.5"/><ellipse cx="477.7" cy="245.9" rx="1.0" ry="0.8" fill="#2c2c06" transform="rotate(72 477.7 245.9)" opacity="0.8"/><ellipse cx="475.9" cy="244.6" rx="3.4" ry="3.0" fill="#8c8c12" transform="rotate(163 475.9 244.6)" opacity="0.5"/><ellipse cx="491.4" cy="242.4" rx="2.9" ry="2.4" fill="#8c8c12" transform="rotate(28 491.4 242.4)" opacity="0.5"/><ellipse cx="491.4" cy="242.4" rx="1.2" ry="1.0" fill="#2c2c06" transform="rotate(28 491.4 242.4)" opacity="0.8"/><ellipse cx="535.1" cy="222.7" rx="2.6" ry="2.5" fill="#8c8c12" transform="rotate(108 535.1 222.7)" opacity="0.5"/><ellipse cx="535.1" cy="222.7" rx="1.0" ry="1.0" fill="#2c2c06" transform="rotate(108 535.1 222.7)" opacity="0.8"/><ellipse cx="493.0" cy="274.5" rx="3.7" ry="2.7" fill="#8c8c12" transform="rotate(5 493.0 274.5)" opacity="0.5"/></g><g filter="url(#soft)"><ellipse cx="504.5" cy="212.2" rx="5.8" ry="3.6" fill="#f04818" transform="rotate(-15 504.5 212.2)" /><ellipse cx="497.5" cy="218.6" rx="3.8" ry="3.2" fill="#f04818" /><ellipse cx="492.1" cy="223.2" rx="2.8" ry="3.6" fill="#f04818" /><ellipse cx="504.1" cy="238.3" rx="3.0" ry="3.0" fill="#f04818" /><ellipse cx="511.3" cy="231.7" rx="1.2" ry="1.2" fill="#f04818" /><ellipse cx="471.8" cy="232.9" rx="1.0" ry="1.2" fill="#f04818" /><ellipse cx="492.1" cy="234.1" rx="1.2" ry="1.4" fill="#f04818" /><ellipse cx="489.1" cy="247.2" rx="2.2" ry="2.2" fill="#f04818" /><ellipse cx="509.5" cy="269.9" rx="3.0" ry="2.8" fill="#f04818" /><ellipse cx="494.5" cy="274.7" rx="3.4" ry="2.4" fill="#f04818" /><ellipse cx="489.7" cy="270.5" rx="1.2" ry="1.2" fill="#f04818" /><ellipse cx="501.7" cy="265.1" rx="1.4" ry="1.6" fill="#f04818" /><ellipse cx="530.4" cy="272.9" rx="2.8" ry="2.8" fill="#f04818" /><ellipse cx="528.0" cy="245.4" rx="1.0" ry="1.0" fill="#f04818" /><ellipse cx="542.4" cy="228.7" rx="3.2" ry="2.8" fill="none" stroke="#f04818" stroke-width="1.6" /></g><line x1="520.3" y1="280.4" x2="547.2" y2="280.4" stroke="#c8c850" stroke-width="1.4"/></g>
<rect x="377.50" y="30.50" width="81.00" height="124.10" fill="none" stroke="#e6e650" stroke-width="1.1"/>
<line x1="377.00" y1="71.30" x2="459.00" y2="71.30" stroke="#e6e650" stroke-width="2.4"/>
<line x1="418.30" y1="30.00" x2="418.30" y2="71.30" stroke="#e6e650" stroke-width="2.4"/>
<line x1="378.00" y1="71.30" x2="458.00" y2="71.30" stroke="#fbfbc8" stroke-width="0.9"/>
<line x1="418.30" y1="31.00" x2="418.30" y2="71.30" stroke="#fbfbc8" stroke-width="0.9"/>
<rect x="467.50" y="30.50" width="81.00" height="123.90" fill="none" stroke="#e6e650" stroke-width="1.1"/>
<line x1="467.00" y1="71.20" x2="549.00" y2="71.20" stroke="#e6e650" stroke-width="2.4"/>
<line x1="507.55" y1="30.00" x2="507.55" y2="71.20" stroke="#e6e650" stroke-width="2.4"/>
<line x1="468.00" y1="71.20" x2="548.00" y2="71.20" stroke="#fbfbc8" stroke-width="0.9"/>
<line x1="507.55" y1="31.00" x2="507.55" y2="71.20" stroke="#fbfbc8" stroke-width="0.9"/>
<rect x="377.30" y="162.40" width="81.00" height="121.60" fill="none" stroke="#e6e650" stroke-width="1.1"/>
<line x1="376.80" y1="202.60" x2="458.80" y2="202.60" stroke="#e6e650" stroke-width="2.4"/>
<line x1="417.70" y1="161.90" x2="417.70" y2="202.60" stroke="#e6e650" stroke-width="2.4"/>
<line x1="377.80" y1="202.60" x2="457.80" y2="202.60" stroke="#fbfbc8" stroke-width="0.9"/>
<line x1="417.70" y1="162.90" x2="417.70" y2="202.60" stroke="#fbfbc8" stroke-width="0.9"/>
<rect x="468.30" y="161.80" width="80.40" height="122.30" fill="none" stroke="#e6e650" stroke-width="1.1"/>
<line x1="467.80" y1="202.20" x2="549.20" y2="202.20" stroke="#e6e650" stroke-width="2.4"/>
<line x1="508.45" y1="161.30" x2="508.45" y2="202.20" stroke="#e6e650" stroke-width="2.4"/>
<line x1="468.80" y1="202.20" x2="548.20" y2="202.20" stroke="#fbfbc8" stroke-width="0.9"/>
<line x1="508.45" y1="162.30" x2="508.45" y2="202.20" stroke="#fbfbc8" stroke-width="0.9"/>
<text x="5.60" y="11.00" font-size="12.3" text-anchor="start" font-weight="bold" fill="#000" >A</text>
<text x="13.60" y="25.20" font-size="7.3" text-anchor="start" font-weight="bold" fill="#000" >(cm)</text>
<text x="64.00" y="28.80" font-size="10" text-anchor="start" font-weight="bold" fill="#000" >Total distance</text>
<text x="19.20" y="289.55" font-size="8.4" text-anchor="end" font-weight="bold" fill="#000" >0</text>
<text x="19.20" y="261.99" font-size="8.4" text-anchor="end" font-weight="bold" fill="#000" >500</text>
<text x="19.20" y="234.44" font-size="8.4" text-anchor="end" font-weight="bold" fill="#000" >1000</text>
<text x="19.20" y="206.88" font-size="8.4" text-anchor="end" font-weight="bold" fill="#000" >1500</text>
<text x="19.20" y="179.33" font-size="8.4" text-anchor="end" font-weight="bold" fill="#000" >2000</text>
<text x="19.20" y="151.77" font-size="8.4" text-anchor="end" font-weight="bold" fill="#000" >2500</text>
<text x="19.20" y="124.22" font-size="8.4" text-anchor="end" font-weight="bold" fill="#000" >3000</text>
<text x="19.20" y="96.66" font-size="8.4" text-anchor="end" font-weight="bold" fill="#000" >3500</text>
<text x="19.20" y="69.11" font-size="8.4" text-anchor="end" font-weight="bold" fill="#000" >4000</text>
<text x="19.20" y="41.55" font-size="8.4" text-anchor="end" font-weight="bold" fill="#000" >4500</text>
<rect x="39.20" y="126.90" width="10.90" height="159.70" fill="#4472c4" />
<rect x="51.20" y="137.80" width="10.70" height="148.80" fill="#ed7d31" />
<rect x="75.10" y="208.70" width="10.90" height="77.90" fill="#4472c4" />
<rect x="87.10" y="201.00" width="10.70" height="85.60" fill="#ed7d31" />
<rect x="110.80" y="184.60" width="10.90" height="102.00" fill="#4472c4" />
<rect x="122.80" y="174.70" width="10.70" height="111.90" fill="#ed7d31" />
<rect x="146.20" y="186.80" width="10.90" height="99.80" fill="#4472c4" />
<rect x="158.20" y="159.00" width="10.70" height="127.60" fill="#ed7d31" />
<line x1="27" y1="39" x2="27" y2="286.6" stroke="#bfbfbf" stroke-width="1.3"/>
<line x1="26.4" y1="286.6" x2="181" y2="286.6" stroke="#bfbfbf" stroke-width="1.3"/>
<circle cx="44.90" cy="84.90" r="1.75"/>
<circle cx="44.90" cy="94.70" r="1.75"/>
<circle cx="44.90" cy="96.20" r="1.75"/>
<circle cx="44.90" cy="97.60" r="1.75"/>
<circle cx="44.90" cy="103.00" r="1.75"/>
<circle cx="44.90" cy="108.50" r="1.75"/>
<circle cx="44.90" cy="110.70" r="1.75"/>
<circle cx="44.90" cy="114.00" r="1.75"/>
<circle cx="44.90" cy="117.90" r="1.75"/>
<circle cx="44.90" cy="121.20" r="1.75"/>
<circle cx="44.90" cy="123.20" r="1.75"/>
<circle cx="44.90" cy="125.40" r="1.75"/>
<circle cx="44.90" cy="127.80" r="1.75"/>
<circle cx="44.90" cy="133.00" r="1.75"/>
<circle cx="44.90" cy="140.00" r="1.75"/>
<circle cx="44.90" cy="145.50" r="1.75"/>
<circle cx="44.90" cy="159.90" r="1.75"/>
<circle cx="44.90" cy="167.30" r="1.75"/>
<circle cx="44.90" cy="175.20" r="1.75"/>
<circle cx="44.90" cy="211.50" r="1.75"/>
<circle cx="56.50" cy="115.00" r="1.75"/>
<circle cx="56.50" cy="117.30" r="1.75"/>
<circle cx="56.50" cy="119.90" r="1.75"/>
<circle cx="56.50" cy="122.10" r="1.75"/>
<circle cx="56.50" cy="124.30" r="1.75"/>
<circle cx="56.50" cy="132.60" r="1.75"/>
<circle cx="56.50" cy="134.60" r="1.75"/>
<circle cx="56.50" cy="136.70" r="1.75"/>
<circle cx="56.50" cy="140.70" r="1.75"/>
<circle cx="56.50" cy="143.30" r="1.75"/>
<circle cx="56.50" cy="145.70" r="1.75"/>
<circle cx="56.50" cy="147.90" r="1.75"/>
<circle cx="56.50" cy="167.10" r="1.75"/>
<circle cx="56.50" cy="169.30" r="1.75"/>
<circle cx="56.50" cy="170.80" r="1.75"/>
<circle cx="56.50" cy="178.50" r="1.75"/>
<circle cx="56.50" cy="183.90" r="1.75"/>
<circle cx="56.50" cy="196.00" r="1.75"/>
<circle cx="56.50" cy="252.00" r="1.75"/>
<circle cx="56.50" cy="265.50" r="1.75"/>
<circle cx="80.50" cy="175.60" r="1.75"/>
<circle cx="80.50" cy="186.10" r="1.75"/>
<circle cx="80.50" cy="193.40" r="1.75"/>
<circle cx="80.50" cy="196.00" r="1.75"/>
<circle cx="80.50" cy="199.90" r="1.75"/>
<circle cx="80.50" cy="203.20" r="1.75"/>
<circle cx="80.50" cy="205.40" r="1.75"/>
<circle cx="80.50" cy="213.90" r="1.75"/>
<circle cx="80.50" cy="234.20" r="1.75"/>
<circle cx="80.50" cy="237.10" r="1.75"/>
<circle cx="80.50" cy="251.30" r="1.75"/>
<circle cx="92.20" cy="179.10" r="1.75"/>
<circle cx="92.20" cy="180.70" r="1.75"/>
<circle cx="92.20" cy="182.40" r="1.75"/>
<circle cx="92.20" cy="184.60" r="1.75"/>
<circle cx="92.20" cy="186.60" r="1.75"/>
<circle cx="92.20" cy="191.60" r="1.75"/>
<circle cx="92.20" cy="193.80" r="1.75"/>
<circle cx="92.20" cy="203.20" r="1.75"/>
<circle cx="92.20" cy="205.80" r="1.75"/>
<circle cx="92.20" cy="214.60" r="1.75"/>
<circle cx="92.20" cy="219.00" r="1.75"/>
<circle cx="92.20" cy="222.30" r="1.75"/>
<circle cx="92.20" cy="226.60" r="1.75"/>
<circle cx="116.00" cy="152.50" r="1.75"/>
<circle cx="116.00" cy="166.40" r="1.75"/>
<circle cx="116.00" cy="171.20" r="1.75"/>
<circle cx="116.00" cy="181.70" r="1.75"/>
<circle cx="116.00" cy="184.60" r="1.75"/>
<circle cx="116.00" cy="191.60" r="1.75"/>
<circle cx="116.00" cy="193.80" r="1.75"/>
<circle cx="116.00" cy="196.00" r="1.75"/>
<circle cx="116.00" cy="198.20" r="1.75"/>
<circle cx="116.00" cy="200.40" r="1.75"/>
<circle cx="116.00" cy="206.00" r="1.75"/>
<circle cx="128.10" cy="116.00" r="1.75"/>
<circle cx="128.10" cy="123.80" r="1.75"/>
<circle cx="128.10" cy="144.00" r="1.75"/>
<circle cx="128.10" cy="158.10" r="1.75"/>
<circle cx="128.10" cy="167.30" r="1.75"/>
<circle cx="128.10" cy="177.60" r="1.75"/>
<circle cx="128.10" cy="192.90" r="1.75"/>
<circle cx="128.10" cy="194.90" r="1.75"/>
<circle cx="128.10" cy="199.90" r="1.75"/>
<circle cx="128.10" cy="205.80" r="1.75"/>
<circle cx="128.10" cy="207.40" r="1.75"/>
<circle cx="151.70" cy="135.90" r="1.75"/>
<circle cx="151.70" cy="162.00" r="1.75"/>
<circle cx="151.70" cy="169.30" r="1.75"/>
<circle cx="151.70" cy="175.20" r="1.75"/>
<circle cx="151.70" cy="177.40" r="1.75"/>
<circle cx="151.70" cy="186.10" r="1.75"/>
<circle cx="151.70" cy="191.20" r="1.75"/>
<circle cx="151.70" cy="196.00" r="1.75"/>
<circle cx="151.70" cy="200.40" r="1.75"/>
<circle cx="151.70" cy="207.40" r="1.75"/>
<circle cx="151.70" cy="215.00" r="1.75"/>
<circle cx="151.70" cy="249.60" r="1.75"/>
<circle cx="163.80" cy="66.20" r="1.75"/>
<circle cx="163.80" cy="68.00" r="1.75"/>
<circle cx="163.80" cy="131.00" r="1.75"/>
<circle cx="163.80" cy="142.40" r="1.75"/>
<circle cx="163.80" cy="152.10" r="1.75"/>
<circle cx="163.80" cy="154.40" r="1.75"/>
<circle cx="163.80" cy="156.60" r="1.75"/>
<circle cx="163.80" cy="159.40" r="1.75"/>
<circle cx="163.80" cy="167.10" r="1.75"/>
<circle cx="163.80" cy="171.90" r="1.75"/>
<circle cx="163.80" cy="174.10" r="1.75"/>
<circle cx="163.80" cy="200.40" r="1.75"/>
<circle cx="163.80" cy="202.10" r="1.75"/>
<circle cx="163.80" cy="208.00" r="1.75"/>
<circle cx="163.80" cy="211.70" r="1.75"/>
<line x1="151" y1="58.8" x2="165.1" y2="58.8" stroke="#000" stroke-width="1.6"/>
<polygon points="158.50,51.20 159.13,52.88 160.93,52.96 159.52,54.08 160.00,55.81 158.50,54.82 157.00,55.81 157.48,54.08 156.07,52.96 157.87,52.88" fill="#000"/>
<text transform="translate(40.90,300.70) scale(0.95,1.06)" x="0" y="0" font-size="9.8" text-anchor="start" font-weight="bold" fill="#000" >0 D</text>
<text transform="translate(75.50,300.70) scale(0.95,1.06)" x="0" y="0" font-size="9.8" text-anchor="start" font-weight="bold" fill="#000" >4W</text>
<text transform="translate(113.60,300.70) scale(0.95,1.06)" x="0" y="0" font-size="9.8" text-anchor="start" font-weight="bold" fill="#000" >8W</text>
<text transform="translate(143.90,300.70) scale(0.95,1.06)" x="0" y="0" font-size="9.8" text-anchor="start" font-weight="bold" fill="#000" >12W</text>
<text x="171.60" y="11.00" font-size="12.3" text-anchor="start" font-weight="bold" fill="#000" >B</text>
<text x="177.80" y="25.50" font-size="7.4" text-anchor="start" font-weight="bold" fill="#000" >(times)</text>
<text x="218.90" y="26.80" font-size="10" text-anchor="start" font-weight="bold" fill="#000" >The Number of standings</text>
<text x="194.40" y="288.20" font-size="8.0" text-anchor="end" font-weight="bold" fill="#000" >0</text>
<text x="194.40" y="252.76" font-size="8.0" text-anchor="end" font-weight="bold" fill="#000" >10</text>
<text x="194.40" y="217.31" font-size="8.0" text-anchor="end" font-weight="bold" fill="#000" >20</text>
<text x="194.40" y="181.87" font-size="8.0" text-anchor="end" font-weight="bold" fill="#000" >30</text>
<text x="194.40" y="146.43" font-size="8.0" text-anchor="end" font-weight="bold" fill="#000" >40</text>
<text x="194.40" y="110.99" font-size="8.0" text-anchor="end" font-weight="bold" fill="#000" >50</text>
<text x="194.40" y="75.54" font-size="8.0" text-anchor="end" font-weight="bold" fill="#000" >60</text>
<text x="194.40" y="40.10" font-size="8.0" text-anchor="end" font-weight="bold" fill="#000" >70</text>
<rect x="213.90" y="144.10" width="10.20" height="141.20" fill="#4472c4" />
<rect x="225.30" y="132.00" width="10.20" height="153.30" fill="#ed7d31" />
<rect x="247.40" y="177.90" width="10.20" height="107.40" fill="#4472c4" />
<rect x="258.50" y="124.70" width="10.20" height="160.60" fill="#ed7d31" />
<rect x="280.70" y="191.10" width="10.20" height="94.20" fill="#4472c4" />
<rect x="291.90" y="162.70" width="10.20" height="122.60" fill="#ed7d31" />
<rect x="314.10" y="207.40" width="10.20" height="77.90" fill="#4472c4" />
<rect x="325.00" y="155.70" width="10.20" height="129.60" fill="#ed7d31" />
<line x1="202.5" y1="37.6" x2="202.5" y2="285.3" stroke="#595959" stroke-width="1"/>
<line x1="202" y1="285.3" x2="344.5" y2="285.3" stroke="#595959" stroke-width="1"/>
<circle cx="218.90" cy="48.10" r="1.75"/>
<circle cx="218.90" cy="80.00" r="1.75"/>
<circle cx="218.90" cy="90.60" r="1.75"/>
<circle cx="218.90" cy="112.10" r="1.75"/>
<circle cx="218.90" cy="111.90" r="1.75"/>
<circle cx="218.90" cy="122.10" r="1.75"/>
<circle cx="218.90" cy="125.90" r="1.75"/>
<circle cx="218.90" cy="136.10" r="1.75"/>
<circle cx="218.90" cy="139.70" r="1.75"/>
<circle cx="218.90" cy="147.40" r="1.75"/>
<circle cx="218.90" cy="154.20" r="1.75"/>
<circle cx="218.90" cy="168.70" r="1.75"/>
<circle cx="218.90" cy="171.10" r="1.75"/>
<circle cx="218.90" cy="173.30" r="1.75"/>
<circle cx="218.90" cy="175.70" r="1.75"/>
<circle cx="218.90" cy="178.10" r="1.75"/>
<circle cx="218.90" cy="180.50" r="1.75"/>
<circle cx="218.90" cy="183.00" r="1.75"/>
<circle cx="218.90" cy="204.00" r="1.75"/>
<circle cx="230.30" cy="44.50" r="1.75"/>
<circle cx="230.30" cy="72.80" r="1.75"/>
<circle cx="230.30" cy="80.00" r="1.75"/>
<circle cx="230.30" cy="90.60" r="1.75"/>
<circle cx="230.30" cy="122.10" r="1.75"/>
<circle cx="230.30" cy="136.60" r="1.75"/>
<circle cx="230.30" cy="154.20" r="1.75"/>
<circle cx="230.30" cy="156.60" r="1.75"/>
<circle cx="230.30" cy="159.00" r="1.75"/>
<circle cx="230.30" cy="161.90" r="1.75"/>
<circle cx="230.30" cy="165.10" r="1.75"/>
<circle cx="230.30" cy="179.30" r="1.75"/>
<circle cx="230.30" cy="195.50" r="1.75"/>
<circle cx="230.30" cy="196.80" r="1.75"/>
<circle cx="252.50" cy="69.10" r="1.75"/>
<circle cx="252.50" cy="115.20" r="1.75"/>
<circle cx="252.50" cy="133.20" r="1.75"/>
<circle cx="252.50" cy="157.80" r="1.75"/>
<circle cx="252.50" cy="189.40" r="1.75"/>
<circle cx="252.50" cy="193.20" r="1.75"/>
<circle cx="252.50" cy="200.40" r="1.75"/>
<circle cx="252.50" cy="211.00" r="1.75"/>
<circle cx="252.50" cy="246.30" r="1.75"/>
<circle cx="252.50" cy="249.90" r="1.75"/>
<circle cx="263.60" cy="90.60" r="1.75"/>
<circle cx="263.60" cy="101.30" r="1.75"/>
<circle cx="263.60" cy="104.90" r="1.75"/>
<circle cx="263.60" cy="112.10" r="1.75"/>
<circle cx="263.60" cy="129.30" r="1.75"/>
<circle cx="263.60" cy="133.20" r="1.75"/>
<circle cx="263.60" cy="137.10" r="1.75"/>
<circle cx="263.60" cy="140.20" r="1.75"/>
<circle cx="263.60" cy="143.80" r="1.75"/>
<circle cx="263.60" cy="154.20" r="1.75"/>
<circle cx="263.60" cy="168.70" r="1.75"/>
<circle cx="285.80" cy="90.60" r="1.75"/>
<circle cx="285.80" cy="108.50" r="1.75"/>
<circle cx="285.80" cy="133.20" r="1.75"/>
<circle cx="285.80" cy="143.80" r="1.75"/>
<circle cx="285.80" cy="207.40" r="1.75"/>
<circle cx="285.80" cy="211.00" r="1.75"/>
<circle cx="285.80" cy="221.60" r="1.75"/>
<circle cx="285.80" cy="235.90" r="1.75"/>
<circle cx="285.80" cy="242.70" r="1.75"/>
<circle cx="285.80" cy="249.90" r="1.75"/>
<circle cx="285.80" cy="256.90" r="1.75"/>
<circle cx="296.90" cy="37.20" r="1.75"/>
<circle cx="296.90" cy="90.60" r="1.75"/>
<circle cx="296.90" cy="97.60" r="1.75"/>
<circle cx="296.90" cy="108.50" r="1.75"/>
<circle cx="296.90" cy="115.20" r="1.75"/>
<circle cx="296.90" cy="207.40" r="1.75"/>
<circle cx="296.90" cy="225.30" r="1.75"/>
<circle cx="296.90" cy="239.30" r="1.75"/>
<circle cx="296.90" cy="242.70" r="1.75"/>
<circle cx="296.90" cy="256.90" r="1.75"/>
<circle cx="319.20" cy="101.30" r="1.75"/>
<circle cx="319.20" cy="143.80" r="1.75"/>
<circle cx="319.20" cy="154.20" r="1.75"/>
<circle cx="319.20" cy="179.30" r="1.75"/>
<circle cx="319.20" cy="193.20" r="1.75"/>
<circle cx="319.20" cy="196.80" r="1.75"/>
<circle cx="319.20" cy="221.60" r="1.75"/>
<circle cx="319.20" cy="228.70" r="1.75"/>
<circle cx="319.20" cy="232.30" r="1.75"/>
<circle cx="319.20" cy="239.30" r="1.75"/>
<circle cx="319.20" cy="253.30" r="1.75"/>
<circle cx="319.20" cy="256.90" r="1.75"/>
<circle cx="330.30" cy="62.10" r="1.75"/>
<circle cx="330.30" cy="83.40" r="1.75"/>
<circle cx="330.30" cy="90.60" r="1.75"/>
<circle cx="330.30" cy="97.60" r="1.75"/>
<circle cx="330.30" cy="112.10" r="1.75"/>
<circle cx="330.30" cy="125.90" r="1.75"/>
<circle cx="330.30" cy="136.60" r="1.75"/>
<circle cx="330.30" cy="150.60" r="1.75"/>
<circle cx="330.30" cy="154.20" r="1.75"/>
<circle cx="330.30" cy="172.10" r="1.75"/>
<circle cx="330.30" cy="179.30" r="1.75"/>
<circle cx="330.30" cy="204.00" r="1.75"/>
<circle cx="330.30" cy="218.00" r="1.75"/>
<circle cx="330.30" cy="221.60" r="1.75"/>
<circle cx="330.30" cy="232.30" r="1.75"/>
<circle cx="330.30" cy="235.90" r="1.75"/>
<line x1="252" y1="55.9" x2="266.5" y2="55.9" stroke="#000" stroke-width="1.6"/>
<polygon points="259.60,46.40 260.23,48.08 262.03,48.16 260.62,49.28 261.10,51.01 259.60,50.02 258.10,51.01 258.58,49.28 257.17,48.16 258.97,48.08" fill="#000"/>
<line x1="317" y1="55.9" x2="331" y2="55.9" stroke="#000" stroke-width="1.6"/>
<polygon points="320.40,46.60 321.03,48.28 322.83,48.36 321.42,49.48 321.90,51.21 320.40,50.22 318.90,51.21 319.38,49.48 317.97,48.36 319.77,48.28" fill="#000"/>
<polygon points="325.90,46.60 326.53,48.28 328.33,48.36 326.92,49.48 327.40,51.21 325.90,50.22 324.40,51.21 324.88,49.48 323.47,48.36 325.27,48.28" fill="#000"/>
<text transform="translate(211.90,299.00) scale(0.97,1.02)" x="0" y="0" font-size="9.6" text-anchor="start" font-weight="bold" fill="#000" >0 D</text>
<text transform="translate(247.20,299.00) scale(0.97,1.02)" x="0" y="0" font-size="9.6" text-anchor="start" font-weight="bold" fill="#000" >4W</text>
<text transform="translate(285.10,299.00) scale(0.97,1.02)" x="0" y="0" font-size="9.6" text-anchor="start" font-weight="bold" fill="#000" >8W</text>
<text transform="translate(315.30,299.00) scale(0.97,1.02)" x="0" y="0" font-size="9.6" text-anchor="start" font-weight="bold" fill="#000" >12W</text>
<rect x="202.20" y="310.60" width="24.20" height="8.40" fill="#4472c4" stroke="#2f528f" stroke-width="0.6"/>
<rect x="202.20" y="325.10" width="24.20" height="8.20" fill="#ed7d31" stroke="#ae5a21" stroke-width="0.6"/>
<text x="237.30" y="319.50" font-size="10" text-anchor="start" font-weight="bold" fill="#000" >control</text>
<text x="237.30" y="334.40" font-size="10" text-anchor="start" font-weight="bold" fill="#000" >rimegepant</text>
<text x="197.60" y="352.10" font-size="9.5" text-anchor="start" font-weight="bold" fill="#000" >*</text>
<text x="208.30" y="352.10" font-size="9.5" text-anchor="start" font-weight="bold" fill="#000" >;</text>
<text x="215.00" y="352.10" font-size="9.8" text-anchor="start" font-weight="bold" fill="#000" >p&lt;0.05</text>
<text x="255.80" y="352.10" font-size="9.5" text-anchor="start" font-weight="bold" fill="#000" >* *</text>
<text x="273.50" y="352.10" font-size="9.5" text-anchor="start" font-weight="bold" fill="#000" >;</text>
<text x="279.50" y="352.10" font-size="9.8" text-anchor="start" font-weight="bold" fill="#000" >p&lt;0.01</text>
<text x="365.20" y="10.60" font-size="12.8" text-anchor="start" font-weight="bold" fill="#000" >C</text>
<text x="403.70" y="26.10" font-size="7.5" text-anchor="start" font-weight="bold" fill="#000" >control</text>
<text x="486.00" y="24.90" font-size="7.5" text-anchor="start" font-weight="bold" fill="#000" >rimegepant</text>
<text transform="translate(355.80,100.80) scale(0.99,1.03)" x="0" y="0" font-size="11.6" text-anchor="start" font-weight="bold" fill="#000" >8 w</text>
<text transform="translate(350.70,229.30) scale(0.99,1.0)" x="0" y="0" font-size="11.5" text-anchor="start" font-weight="bold" fill="#000" >12 w</text>
<rect x="562.3" y="30.4" width="51.4" height="63.6" fill="none" stroke="#000" stroke-width="0.9"/>
<line x1="587.8" y1="30.4" x2="587.8" y2="60.4" stroke="#000" stroke-width="0.9"/>
<line x1="562.3" y1="60.4" x2="613.7" y2="60.4" stroke="#000" stroke-width="0.9"/>
<text x="570.20" y="40.60" font-size="7.5" text-anchor="start" font-weight="bold" fill="#000" >FG</text>
<text x="595.30" y="40.60" font-size="7.5" text-anchor="start" font-weight="bold" fill="#000" >CG</text>
<text x="595.60" y="49.60" font-size="7.5" text-anchor="start" font-weight="bold" fill="#000" >RP</text>
<text x="574.60" y="79.20" font-size="7.3" text-anchor="start" font-weight="bold" fill="#000" >MERGE</text>
<text x="567.20" y="108.30" font-size="8.2" text-anchor="start" font-weight="bold" fill="#000" >(%)</text>
<text x="596.60" y="117.00" font-size="10.1" text-anchor="start" font-weight="bold" fill="#000" >CGRP / FG ratio</text>
<text x="579.90" y="270.90" font-size="8.5" text-anchor="end" font-weight="bold" fill="#000" >0</text>
<text x="579.90" y="256.36" font-size="8.5" text-anchor="end" font-weight="bold" fill="#000" >10</text>
<text x="579.90" y="241.82" font-size="8.5" text-anchor="end" font-weight="bold" fill="#000" >20</text>
<text x="579.90" y="227.28" font-size="8.5" text-anchor="end" font-weight="bold" fill="#000" >30</text>
<text x="579.90" y="212.74" font-size="8.5" text-anchor="end" font-weight="bold" fill="#000" >40</text>
<text x="579.90" y="198.20" font-size="8.5" text-anchor="end" font-weight="bold" fill="#000" >50</text>
<text x="579.90" y="183.66" font-size="8.5" text-anchor="end" font-weight="bold" fill="#000" >60</text>
<text x="579.90" y="169.12" font-size="8.5" text-anchor="end" font-weight="bold" fill="#000" >70</text>
<text x="579.90" y="154.58" font-size="8.5" text-anchor="end" font-weight="bold" fill="#000" >80</text>
<text x="579.90" y="140.04" font-size="8.5" text-anchor="end" font-weight="bold" fill="#000" >90</text>
<text x="579.90" y="125.50" font-size="8.5" text-anchor="end" font-weight="bold" fill="#000" >100</text>
<rect x="603.10" y="198.10" width="11.10" height="70.30" fill="#4472c4" />
<rect x="616.50" y="228.70" width="11.40" height="39.70" fill="#ed7d31" />
<rect x="644.00" y="161.30" width="11.20" height="107.10" fill="#4472c4" />
<rect x="658.10" y="198.50" width="11.10" height="69.90" fill="#ed7d31" />
<line x1="588.4" y1="123.3" x2="588.4" y2="268.4" stroke="#bfbfbf" stroke-width="1.3"/>
<line x1="587.8" y1="268.4" x2="685" y2="268.4" stroke="#bfbfbf" stroke-width="1.3"/>
<circle cx="608.50" cy="174.10" r="1.75"/>
<circle cx="608.50" cy="195.70" r="1.75"/>
<circle cx="608.50" cy="201.40" r="1.75"/>
<circle cx="608.50" cy="206.20" r="1.75"/>
<circle cx="608.50" cy="213.20" r="1.75"/>
<circle cx="622.20" cy="216.30" r="1.75"/>
<circle cx="622.20" cy="229.50" r="1.75"/>
<circle cx="622.20" cy="234.80" r="1.75"/>
<circle cx="622.20" cy="236.70" r="1.75"/>
<circle cx="649.70" cy="152.00" r="1.75"/>
<circle cx="649.70" cy="154.00" r="1.75"/>
<circle cx="649.70" cy="156.00" r="1.75"/>
<circle cx="649.70" cy="174.10" r="1.75"/>
<circle cx="649.70" cy="178.30" r="1.75"/>
<circle cx="663.20" cy="187.10" r="1.75"/>
<circle cx="663.20" cy="189.70" r="1.75"/>
<circle cx="663.20" cy="203.10" r="1.75"/>
<circle cx="663.20" cy="219.10" r="1.75"/>
<line x1="608.1" y1="166.8" x2="623" y2="166.8" stroke="#000" stroke-width="1.6"/>
<polygon points="615.50,160.50 616.13,162.18 617.93,162.26 616.52,163.38 617.00,165.11 615.50,164.12 614.00,165.11 614.48,163.38 613.07,162.26 614.87,162.18" fill="#000"/>
<line x1="649.1" y1="146" x2="663.8" y2="146" stroke="#000" stroke-width="1.6"/>
<polygon points="656.70,140.10 657.33,141.78 659.13,141.86 657.72,142.98 658.20,144.71 656.70,143.72 655.20,144.71 655.68,142.98 654.27,141.86 656.07,141.78" fill="#000"/>
<text x="606.90" y="281.80" font-size="9.8" text-anchor="start" font-weight="bold" fill="#000" >8W</text>
<text x="648.00" y="281.80" font-size="9.8" text-anchor="start" font-weight="bold" fill="#000" >12W</text>
<rect x="584.00" y="295.00" width="24.10" height="9.70" fill="#4472c4" stroke="#2f528f" stroke-width="0.6"/>
<rect x="584.00" y="309.50" width="24.10" height="9.30" fill="#ed7d31" stroke="#ae5a21" stroke-width="0.6"/>
<text x="619.00" y="303.30" font-size="10" text-anchor="start" font-weight="bold" fill="#000" >control</text>
<text x="619.00" y="317.60" font-size="10" text-anchor="start" font-weight="bold" fill="#000" >rimegepant</text>
<text x="600.20" y="336.40" font-size="9.5" text-anchor="start" font-weight="bold" fill="#000" >*</text>
<text x="610.20" y="336.40" font-size="9.5" text-anchor="start" font-weight="bold" fill="#000" >;</text>
<text x="618.00" y="336.40" font-size="9.9" text-anchor="start" font-weight="bold" fill="#000" >p&lt;0.05</text>
</svg>
</body></html>
